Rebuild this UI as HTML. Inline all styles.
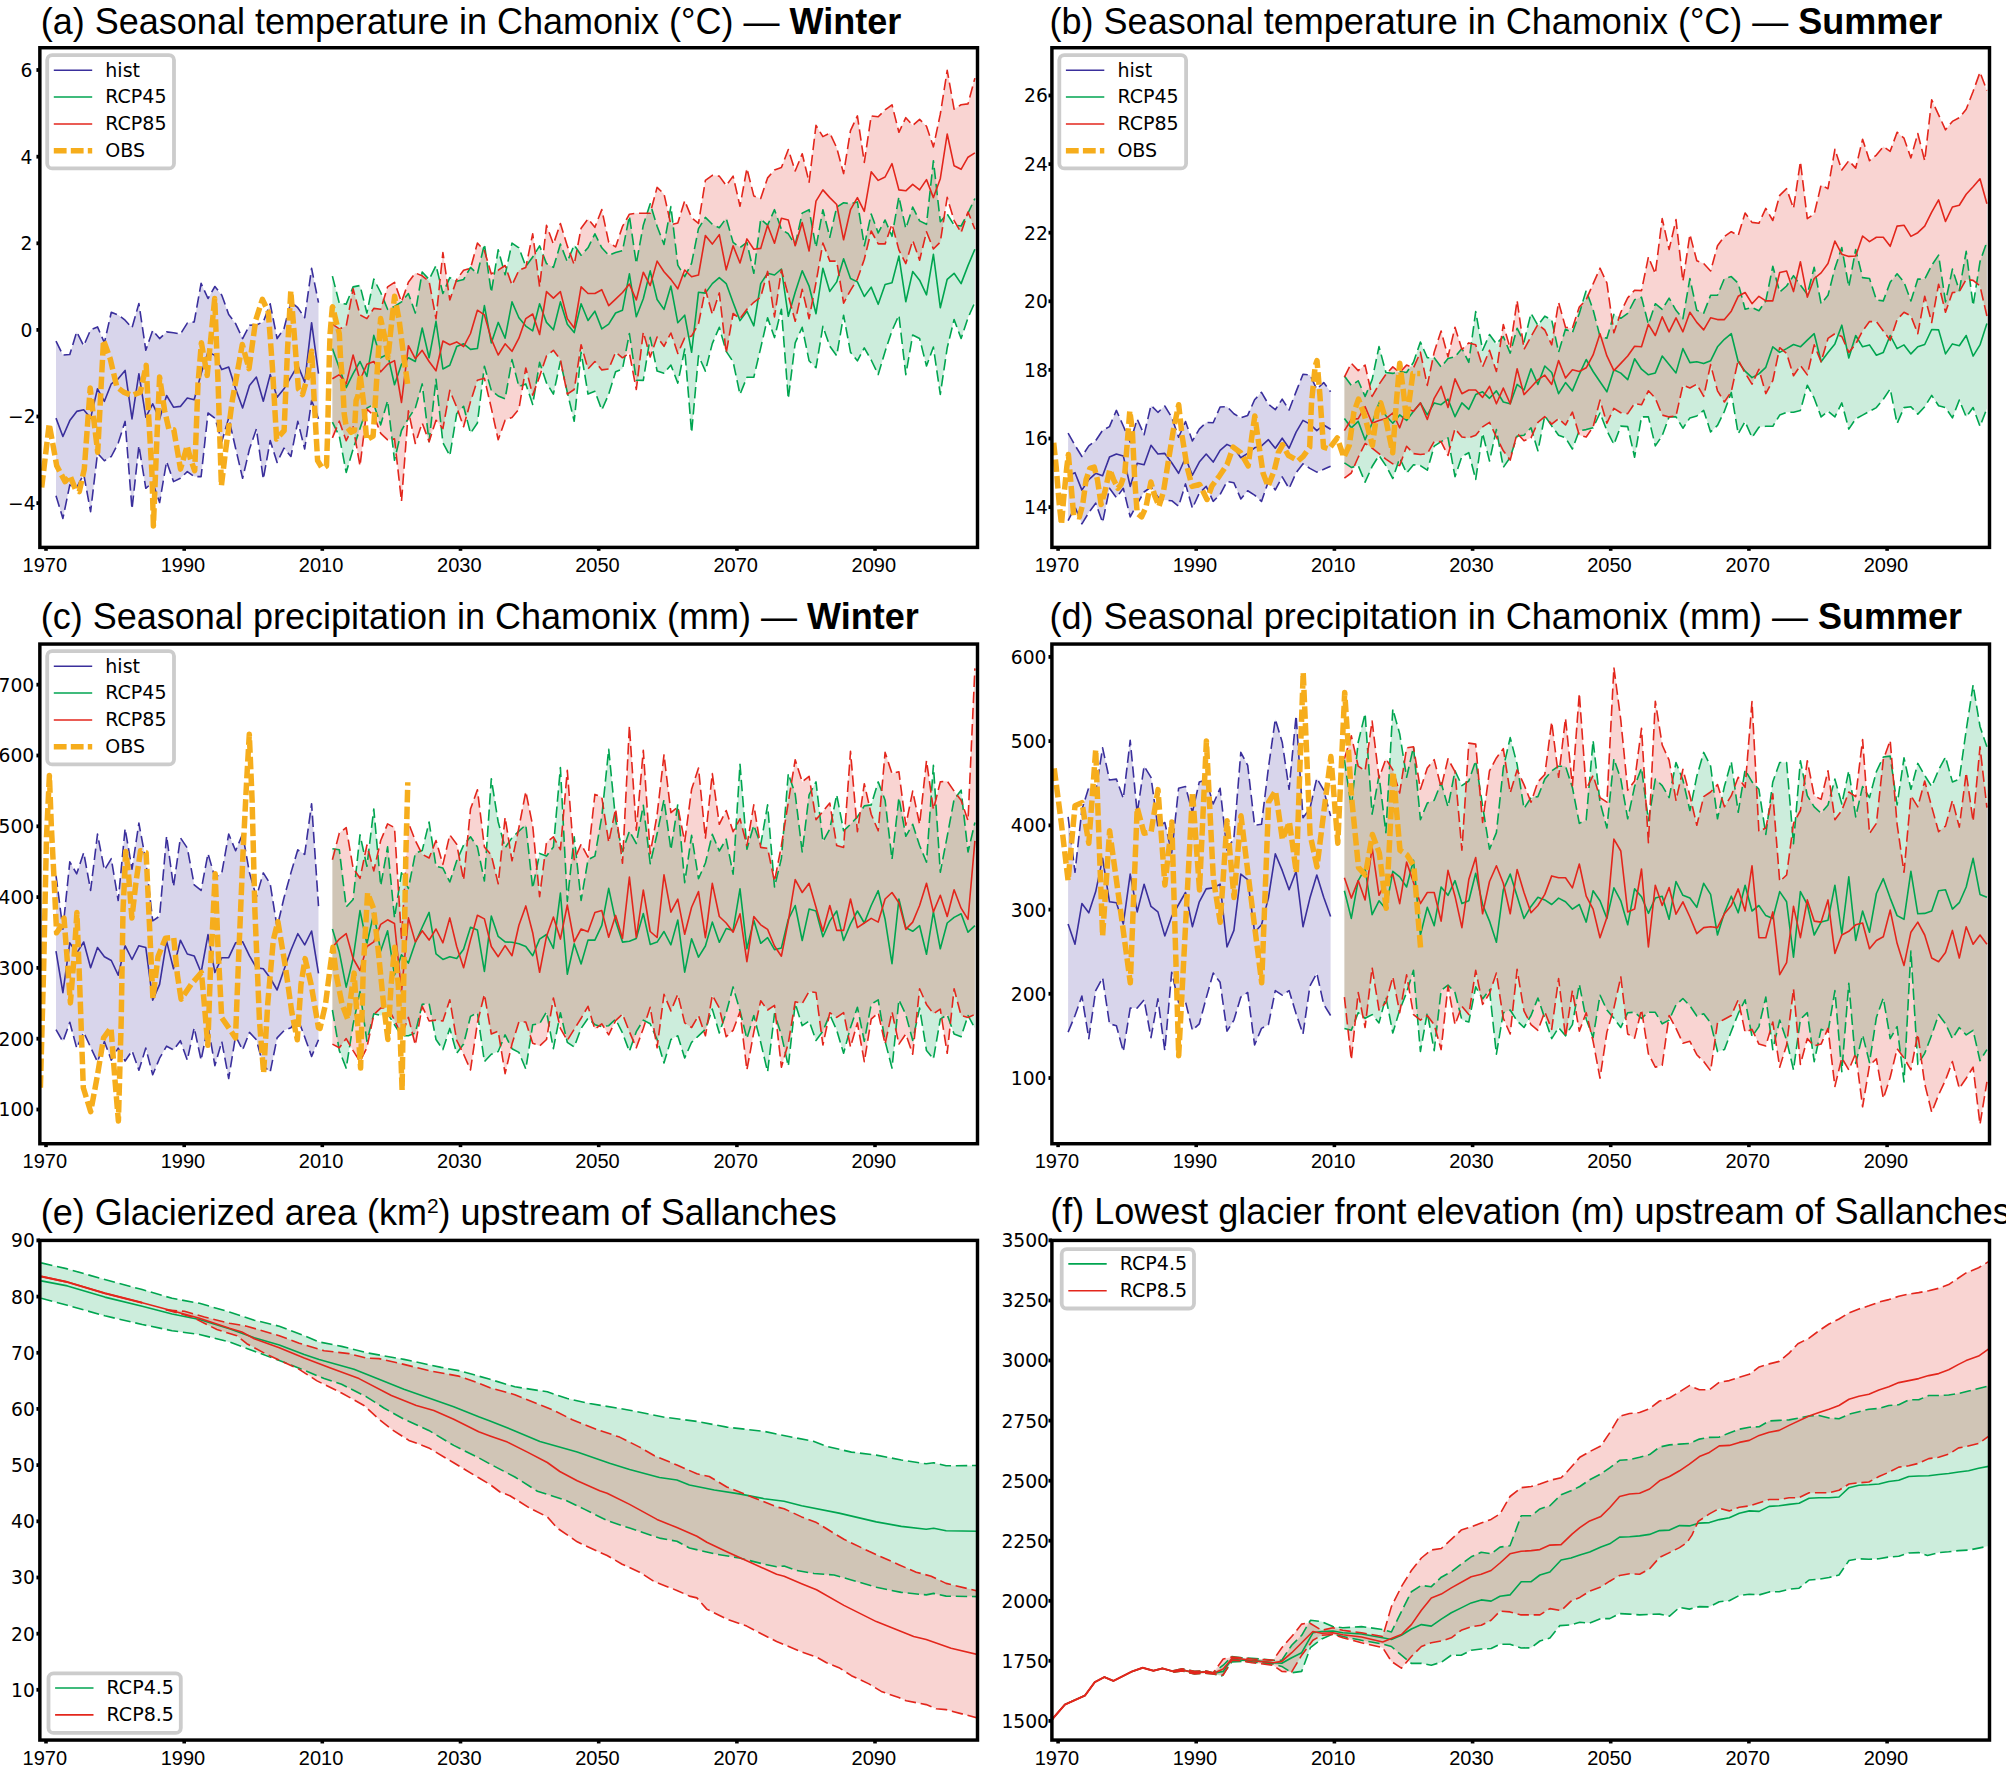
<!DOCTYPE html>
<html><head><meta charset="utf-8"><title>Chamonix climate projections</title>
<style>html,body{margin:0;padding:0;background:#fff}svg{display:block}</style></head>
<body>
<svg width="2006" height="1770" viewBox="0 0 2006 1770">
<rect width="2006" height="1770" fill="#fff"/>
<clipPath id="clipa"><rect x="39.85" y="47.73" width="937.65" height="499.66999999999996"/></clipPath>
<g clip-path="url(#clipa)">
<polygon points="56.0,341.1 62.9,355.0 69.8,354.5 76.7,331.9 83.7,345.7 90.6,329.9 97.5,326.9 104.4,342.8 111.3,312.2 118.2,314.9 125.1,320.2 132.0,327.8 138.9,303.5 145.8,350.3 152.7,330.3 159.6,338.6 166.6,331.9 173.5,332.8 180.4,334.1 187.3,323.1 194.2,321.9 201.1,283.4 208.0,298.5 214.9,286.5 221.8,295.2 228.7,314.4 235.6,323.6 242.6,338.6 249.5,325.3 256.4,324.9 263.3,321.9 270.2,303.8 277.1,338.6 284.0,328.6 290.9,301.8 297.8,307.7 304.7,317.7 311.6,268.4 318.5,302.7 318.5,418.9 311.6,400.5 304.7,449.0 297.8,421.4 290.9,456.5 284.0,448.2 277.1,462.4 270.2,440.6 263.3,479.1 256.4,428.9 249.5,449.0 242.6,478.3 235.6,448.2 228.7,418.1 221.8,441.5 214.9,418.1 208.0,413.0 201.1,476.6 194.2,476.6 187.3,471.6 180.4,478.3 173.5,481.6 166.6,461.5 159.6,502.5 152.7,482.4 145.8,488.3 138.9,445.7 132.0,509.2 125.1,421.4 118.2,443.1 111.3,456.5 104.4,460.7 97.5,453.2 90.6,511.7 83.7,474.1 76.7,487.5 69.8,484.9 62.9,518.4 56.0,495.8" fill="#3a2f9c" fill-opacity="0.2" stroke="none"/>
<polygon points="332.4,276.1 339.3,303.3 346.2,304.1 353.1,286.9 360.0,285.5 366.9,313.0 373.8,279.1 380.7,292.5 387.6,309.3 394.5,306.5 401.5,301.9 408.4,293.5 415.3,313.0 422.2,272.0 429.1,279.5 436.0,265.5 442.9,293.5 449.8,277.6 456.7,281.3 463.6,279.5 470.5,267.4 477.4,273.9 484.4,244.1 491.3,292.5 498.2,249.7 505.1,274.8 512.0,243.1 518.9,247.8 525.8,266.4 532.7,257.1 539.6,245.9 546.5,263.6 553.4,267.4 560.4,244.1 567.3,261.8 574.2,245.0 581.1,255.2 588.0,247.8 594.9,233.8 601.8,247.8 608.7,255.2 615.6,252.5 622.5,250.6 629.4,216.1 636.3,263.6 643.3,225.2 650.2,203.8 657.1,226.2 664.0,244.5 670.9,206.5 677.8,265.1 684.7,276.7 691.6,263.2 698.5,228.6 705.4,217.4 712.3,224.3 719.3,227.7 726.2,218.3 733.1,242.4 740.0,247.5 746.9,242.4 753.8,273.3 760.7,219.1 767.6,225.2 774.5,209.7 781.4,229.5 788.3,233.8 795.2,244.9 802.2,213.1 809.1,209.7 816.0,247.5 822.9,209.7 829.8,237.2 836.7,207.1 843.6,202.8 850.5,203.7 857.4,201.9 864.3,245.8 871.2,214.0 878.2,232.9 885.1,220.0 892.0,236.3 898.9,196.8 905.8,228.6 912.7,207.1 919.6,220.9 926.5,224.3 933.4,160.7 940.3,221.7 947.2,214.0 954.1,225.2 961.1,226.0 968.0,213.1 974.9,198.5 974.9,302.3 968.0,317.8 961.1,338.5 954.1,319.5 947.2,347.9 940.3,394.4 933.4,347.1 926.5,366.0 919.6,338.5 912.7,335.0 905.8,374.6 898.9,315.2 892.0,330.7 885.1,351.4 878.2,374.6 871.2,360.0 864.3,347.9 857.4,360.8 850.5,352.2 843.6,315.2 836.7,355.7 829.8,346.2 822.9,326.4 816.0,367.7 809.1,360.8 802.2,327.3 795.2,342.8 788.3,398.7 781.4,309.2 774.5,337.6 767.6,317.8 760.7,347.9 753.8,377.2 746.9,377.2 740.0,394.4 733.1,361.7 726.2,351.4 719.3,327.3 712.3,343.6 705.4,371.1 698.5,355.7 691.6,432.7 684.7,349.1 677.8,383.1 670.9,365.1 664.0,373.2 657.1,371.0 650.2,337.4 643.3,380.4 636.3,380.2 629.4,333.5 622.5,369.0 615.6,371.8 608.7,394.1 601.8,410.0 594.9,391.3 588.0,394.1 581.1,352.2 574.2,421.2 567.3,392.3 560.4,361.5 553.4,394.1 546.5,383.0 539.6,362.4 532.7,404.4 525.8,383.9 518.9,386.7 512.0,359.6 505.1,398.8 498.2,396.0 491.3,390.4 484.4,366.2 477.4,423.0 470.5,433.3 463.6,406.3 456.7,413.7 449.8,455.7 442.9,442.6 436.0,379.2 429.1,441.7 422.2,383.9 415.3,408.1 408.4,418.4 401.5,430.5 394.5,460.3 387.6,400.7 380.7,424.9 373.8,404.4 366.9,408.1 360.0,428.6 353.1,449.1 346.2,472.4 339.3,436.1 332.4,422.1" fill="#00a550" fill-opacity="0.2" stroke="none"/>
<polygon points="332.4,324.2 339.3,328.9 346.2,326.1 353.1,288.8 360.0,314.9 366.9,318.6 373.8,308.4 380.7,309.3 387.6,286.9 394.5,282.3 401.5,301.9 408.4,282.3 415.3,273.0 422.2,275.8 429.1,281.3 436.0,318.6 442.9,252.5 449.8,300.0 456.7,279.5 463.6,270.2 470.5,268.3 477.4,243.1 484.4,250.6 491.3,273.9 498.2,270.2 505.1,265.5 512.0,285.1 518.9,270.2 525.8,267.4 532.7,233.8 539.6,286.9 546.5,225.4 553.4,244.1 560.4,223.6 567.3,245.9 574.2,264.6 581.1,228.2 588.0,218.9 594.9,227.3 601.8,209.6 608.7,242.2 615.6,246.9 622.5,226.4 629.4,214.2 636.3,213.3 643.3,213.2 650.2,213.2 657.1,187.4 664.0,193.9 670.9,224.8 677.8,223.0 684.7,200.7 691.6,217.7 698.5,223.4 705.4,180.4 712.3,175.3 719.3,176.1 726.2,185.6 733.1,176.1 740.0,206.2 746.9,168.4 753.8,195.9 760.7,198.5 767.6,177.9 774.5,170.1 781.4,167.5 788.3,149.5 795.2,171.0 802.2,153.8 809.1,182.2 816.0,125.4 822.9,136.6 829.8,133.1 836.7,147.8 843.6,173.6 850.5,130.6 857.4,115.9 864.3,162.4 871.2,115.9 878.2,116.8 885.1,109.9 892.0,104.8 898.9,132.3 905.8,117.7 912.7,125.4 919.6,119.4 926.5,126.3 933.4,146.9 940.3,114.2 947.2,70.4 954.1,109.1 961.1,104.8 968.0,103.9 974.9,78.1 974.9,229.2 968.0,212.0 961.1,232.7 954.1,220.6 947.2,197.4 940.3,242.1 933.4,249.0 926.5,231.8 919.6,260.2 912.7,240.4 905.8,263.6 898.9,249.9 892.0,224.1 885.1,243.9 878.2,243.9 871.2,231.0 864.3,259.3 857.4,279.1 850.5,290.3 843.6,303.2 836.7,261.1 829.8,261.1 822.9,243.0 816.0,282.6 809.1,318.7 802.2,289.4 795.2,321.3 788.3,295.5 781.4,269.7 774.5,317.0 767.6,271.4 760.7,297.2 753.8,302.3 746.9,309.2 740.0,318.7 733.1,313.5 726.2,353.1 719.3,292.9 712.3,314.4 705.4,289.4 698.5,323.8 691.6,336.1 684.7,337.9 677.8,353.5 670.9,333.0 664.0,346.3 657.1,337.0 650.2,357.1 643.3,332.1 636.3,389.5 629.4,353.1 622.5,357.8 615.6,352.2 608.7,369.0 601.8,369.9 594.9,361.5 588.0,369.0 581.1,344.7 574.2,389.5 567.3,394.1 560.4,359.6 553.4,350.3 546.5,355.9 539.6,376.4 532.7,395.1 525.8,368.0 518.9,409.1 512.0,417.4 505.1,420.2 498.2,439.8 491.3,408.1 484.4,378.3 477.4,380.2 470.5,401.6 463.6,426.8 456.7,407.2 449.8,390.4 442.9,428.6 436.0,420.2 429.1,441.7 422.2,423.0 415.3,443.5 408.4,410.9 401.5,501.3 394.5,438.9 387.6,439.8 380.7,433.3 373.8,415.6 366.9,409.1 360.0,465.9 353.1,426.8 346.2,440.7 339.3,421.2 332.4,437.9" fill="#e3261c" fill-opacity="0.2" stroke="none"/>
<polyline points="56.0,418.1 62.9,436.5 69.8,420.6 76.7,411.4 83.7,409.7 90.6,418.1 97.5,388.8 104.4,401.3 111.3,383.8 118.2,378.8 125.1,370.4 132.0,418.9 138.9,373.7 145.8,417.2 152.7,403.8 159.6,418.9 166.6,395.5 173.5,407.2 180.4,406.4 187.3,398.0 194.2,399.7 201.1,373.7 208.0,352.0 214.9,355.4 221.8,369.6 228.7,367.1 235.6,388.8 242.6,408.0 249.5,385.5 256.4,377.1 263.3,401.3 270.2,374.6 277.1,397.2 284.0,388.8 290.9,377.1 297.8,365.4 304.7,382.1 311.6,322.7 318.5,373.7" fill="none" stroke="#3a2f9c" stroke-width="1.6" stroke-linejoin="round"/>
<polyline points="56.0,341.1 62.9,355.0 69.8,354.5 76.7,331.9 83.7,345.7 90.6,329.9 97.5,326.9 104.4,342.8 111.3,312.2 118.2,314.9 125.1,320.2 132.0,327.8 138.9,303.5 145.8,350.3 152.7,330.3 159.6,338.6 166.6,331.9 173.5,332.8 180.4,334.1 187.3,323.1 194.2,321.9 201.1,283.4 208.0,298.5 214.9,286.5 221.8,295.2 228.7,314.4 235.6,323.6 242.6,338.6 249.5,325.3 256.4,324.9 263.3,321.9 270.2,303.8 277.1,338.6 284.0,328.6 290.9,301.8 297.8,307.7 304.7,317.7 311.6,268.4 318.5,302.7" fill="none" stroke="#3a2f9c" stroke-width="1.6" stroke-dasharray="11.4 4.8" stroke-linejoin="round"/>
<polyline points="56.0,495.8 62.9,518.4 69.8,484.9 76.7,487.5 83.7,474.1 90.6,511.7 97.5,453.2 104.4,460.7 111.3,456.5 118.2,443.1 125.1,421.4 132.0,509.2 138.9,445.7 145.8,488.3 152.7,482.4 159.6,502.5 166.6,461.5 173.5,481.6 180.4,478.3 187.3,471.6 194.2,476.6 201.1,476.6 208.0,413.0 214.9,418.1 221.8,441.5 228.7,418.1 235.6,448.2 242.6,478.3 249.5,449.0 256.4,428.9 263.3,479.1 270.2,440.6 277.1,462.4 284.0,448.2 290.9,456.5 297.8,421.4 304.7,449.0 311.6,400.5 318.5,418.9" fill="none" stroke="#3a2f9c" stroke-width="1.6" stroke-dasharray="11.4 4.8" stroke-linejoin="round"/>
<polyline points="332.4,348.5 339.3,368.0 346.2,387.6 353.1,373.6 360.0,361.5 366.9,376.4 373.8,335.4 380.7,357.8 387.6,354.1 394.5,384.8 401.5,364.3 408.4,357.8 415.3,361.5 422.2,328.0 429.1,357.8 436.0,321.4 442.9,369.0 449.8,365.2 456.7,346.6 463.6,343.8 470.5,349.4 477.4,348.5 484.4,305.6 491.3,342.9 498.2,322.4 505.1,338.2 512.0,301.9 518.9,317.7 525.8,326.1 532.7,330.8 539.6,303.7 546.5,322.4 553.4,329.8 560.4,301.9 567.3,324.2 574.2,332.6 581.1,303.7 588.0,320.5 594.9,311.2 601.8,328.9 608.7,324.2 615.6,313.0 622.5,310.2 629.4,273.9 636.3,316.8 643.3,298.8 650.2,270.9 657.1,299.5 664.0,309.4 670.9,286.1 677.8,322.8 684.7,315.2 691.6,352.3 698.5,292.2 705.4,293.1 712.3,283.6 719.3,277.6 726.2,283.6 733.1,302.6 740.0,320.6 746.9,311.2 753.8,325.8 760.7,283.6 767.6,273.3 774.5,275.0 781.4,269.0 788.3,316.3 795.2,292.2 802.2,270.7 809.1,286.2 816.0,313.7 822.9,268.2 829.8,291.4 836.7,281.9 843.6,258.7 850.5,278.5 857.4,281.9 864.3,296.5 871.2,287.1 878.2,304.3 885.1,284.5 892.0,282.8 898.9,256.1 905.8,301.7 912.7,271.6 919.6,280.2 926.5,294.8 933.4,254.4 940.3,307.7 947.2,279.3 954.1,273.3 961.1,283.6 968.0,265.6 974.9,249.2" fill="none" stroke="#00a550" stroke-width="1.6" stroke-linejoin="round"/>
<polyline points="332.4,276.1 339.3,303.3 346.2,304.1 353.1,286.9 360.0,285.5 366.9,313.0 373.8,279.1 380.7,292.5 387.6,309.3 394.5,306.5 401.5,301.9 408.4,293.5 415.3,313.0 422.2,272.0 429.1,279.5 436.0,265.5 442.9,293.5 449.8,277.6 456.7,281.3 463.6,279.5 470.5,267.4 477.4,273.9 484.4,244.1 491.3,292.5 498.2,249.7 505.1,274.8 512.0,243.1 518.9,247.8 525.8,266.4 532.7,257.1 539.6,245.9 546.5,263.6 553.4,267.4 560.4,244.1 567.3,261.8 574.2,245.0 581.1,255.2 588.0,247.8 594.9,233.8 601.8,247.8 608.7,255.2 615.6,252.5 622.5,250.6 629.4,216.1 636.3,263.6 643.3,225.2 650.2,203.8 657.1,226.2 664.0,244.5 670.9,206.5 677.8,265.1 684.7,276.7 691.6,263.2 698.5,228.6 705.4,217.4 712.3,224.3 719.3,227.7 726.2,218.3 733.1,242.4 740.0,247.5 746.9,242.4 753.8,273.3 760.7,219.1 767.6,225.2 774.5,209.7 781.4,229.5 788.3,233.8 795.2,244.9 802.2,213.1 809.1,209.7 816.0,247.5 822.9,209.7 829.8,237.2 836.7,207.1 843.6,202.8 850.5,203.7 857.4,201.9 864.3,245.8 871.2,214.0 878.2,232.9 885.1,220.0 892.0,236.3 898.9,196.8 905.8,228.6 912.7,207.1 919.6,220.9 926.5,224.3 933.4,160.7 940.3,221.7 947.2,214.0 954.1,225.2 961.1,226.0 968.0,213.1 974.9,198.5" fill="none" stroke="#00a550" stroke-width="1.6" stroke-dasharray="11.4 4.8" stroke-linejoin="round"/>
<polyline points="332.4,422.1 339.3,436.1 346.2,472.4 353.1,449.1 360.0,428.6 366.9,408.1 373.8,404.4 380.7,424.9 387.6,400.7 394.5,460.3 401.5,430.5 408.4,418.4 415.3,408.1 422.2,383.9 429.1,441.7 436.0,379.2 442.9,442.6 449.8,455.7 456.7,413.7 463.6,406.3 470.5,433.3 477.4,423.0 484.4,366.2 491.3,390.4 498.2,396.0 505.1,398.8 512.0,359.6 518.9,386.7 525.8,383.9 532.7,404.4 539.6,362.4 546.5,383.0 553.4,394.1 560.4,361.5 567.3,392.3 574.2,421.2 581.1,352.2 588.0,394.1 594.9,391.3 601.8,410.0 608.7,394.1 615.6,371.8 622.5,369.0 629.4,333.5 636.3,380.2 643.3,380.4 650.2,337.4 657.1,371.0 664.0,373.2 670.9,365.1 677.8,383.1 684.7,349.1 691.6,432.7 698.5,355.7 705.4,371.1 712.3,343.6 719.3,327.3 726.2,351.4 733.1,361.7 740.0,394.4 746.9,377.2 753.8,377.2 760.7,347.9 767.6,317.8 774.5,337.6 781.4,309.2 788.3,398.7 795.2,342.8 802.2,327.3 809.1,360.8 816.0,367.7 822.9,326.4 829.8,346.2 836.7,355.7 843.6,315.2 850.5,352.2 857.4,360.8 864.3,347.9 871.2,360.0 878.2,374.6 885.1,351.4 892.0,330.7 898.9,315.2 905.8,374.6 912.7,335.0 919.6,338.5 926.5,366.0 933.4,347.1 940.3,394.4 947.2,347.9 954.1,319.5 961.1,338.5 968.0,317.8 974.9,302.3" fill="none" stroke="#00a550" stroke-width="1.6" stroke-dasharray="11.4 4.8" stroke-linejoin="round"/>
<polyline points="332.4,378.7 339.3,374.6 346.2,383.9 353.1,355.0 360.0,380.2 366.9,364.3 373.8,361.5 380.7,371.8 387.6,364.3 394.5,360.6 401.5,402.5 408.4,345.7 415.3,358.7 422.2,350.3 429.1,361.5 436.0,370.8 442.9,341.0 449.8,344.7 456.7,341.9 463.6,346.6 470.5,333.5 477.4,310.2 484.4,314.9 491.3,339.1 498.2,355.0 505.1,343.8 512.0,351.3 518.9,338.2 525.8,318.6 532.7,314.0 539.6,334.5 546.5,291.6 553.4,298.1 560.4,291.6 567.3,318.6 574.2,328.0 581.1,286.9 588.0,293.5 594.9,293.5 601.8,289.7 608.7,305.6 615.6,299.1 622.5,292.5 629.4,284.1 636.3,300.0 643.3,272.2 650.2,285.6 657.1,261.1 664.0,271.8 670.9,279.4 677.8,288.8 684.7,270.0 691.6,276.7 698.5,275.0 705.4,235.5 712.3,244.1 719.3,234.6 726.2,269.9 733.1,245.8 740.0,263.0 746.9,238.9 753.8,249.2 760.7,248.4 767.6,225.2 774.5,243.2 781.4,218.3 788.3,220.0 795.2,245.8 802.2,222.6 809.1,251.0 816.0,201.1 822.9,189.9 829.8,197.6 836.7,204.5 843.6,239.8 850.5,209.7 857.4,197.6 864.3,211.4 871.2,171.8 878.2,180.4 885.1,177.0 892.0,163.6 898.9,189.9 905.8,190.8 912.7,184.4 919.6,189.9 926.5,179.6 933.4,197.6 940.3,178.7 947.2,134.0 954.1,165.8 961.1,169.3 968.0,157.2 974.9,152.9" fill="none" stroke="#e3261c" stroke-width="1.6" stroke-linejoin="round"/>
<polyline points="332.4,324.2 339.3,328.9 346.2,326.1 353.1,288.8 360.0,314.9 366.9,318.6 373.8,308.4 380.7,309.3 387.6,286.9 394.5,282.3 401.5,301.9 408.4,282.3 415.3,273.0 422.2,275.8 429.1,281.3 436.0,318.6 442.9,252.5 449.8,300.0 456.7,279.5 463.6,270.2 470.5,268.3 477.4,243.1 484.4,250.6 491.3,273.9 498.2,270.2 505.1,265.5 512.0,285.1 518.9,270.2 525.8,267.4 532.7,233.8 539.6,286.9 546.5,225.4 553.4,244.1 560.4,223.6 567.3,245.9 574.2,264.6 581.1,228.2 588.0,218.9 594.9,227.3 601.8,209.6 608.7,242.2 615.6,246.9 622.5,226.4 629.4,214.2 636.3,213.3 643.3,213.2 650.2,213.2 657.1,187.4 664.0,193.9 670.9,224.8 677.8,223.0 684.7,200.7 691.6,217.7 698.5,223.4 705.4,180.4 712.3,175.3 719.3,176.1 726.2,185.6 733.1,176.1 740.0,206.2 746.9,168.4 753.8,195.9 760.7,198.5 767.6,177.9 774.5,170.1 781.4,167.5 788.3,149.5 795.2,171.0 802.2,153.8 809.1,182.2 816.0,125.4 822.9,136.6 829.8,133.1 836.7,147.8 843.6,173.6 850.5,130.6 857.4,115.9 864.3,162.4 871.2,115.9 878.2,116.8 885.1,109.9 892.0,104.8 898.9,132.3 905.8,117.7 912.7,125.4 919.6,119.4 926.5,126.3 933.4,146.9 940.3,114.2 947.2,70.4 954.1,109.1 961.1,104.8 968.0,103.9 974.9,78.1" fill="none" stroke="#e3261c" stroke-width="1.6" stroke-dasharray="11.4 4.8" stroke-linejoin="round"/>
<polyline points="332.4,437.9 339.3,421.2 346.2,440.7 353.1,426.8 360.0,465.9 366.9,409.1 373.8,415.6 380.7,433.3 387.6,439.8 394.5,438.9 401.5,501.3 408.4,410.9 415.3,443.5 422.2,423.0 429.1,441.7 436.0,420.2 442.9,428.6 449.8,390.4 456.7,407.2 463.6,426.8 470.5,401.6 477.4,380.2 484.4,378.3 491.3,408.1 498.2,439.8 505.1,420.2 512.0,417.4 518.9,409.1 525.8,368.0 532.7,395.1 539.6,376.4 546.5,355.9 553.4,350.3 560.4,359.6 567.3,394.1 574.2,389.5 581.1,344.7 588.0,369.0 594.9,361.5 601.8,369.9 608.7,369.0 615.6,352.2 622.5,357.8 629.4,353.1 636.3,389.5 643.3,332.1 650.2,357.1 657.1,337.0 664.0,346.3 670.9,333.0 677.8,353.5 684.7,337.9 691.6,336.1 698.5,323.8 705.4,289.4 712.3,314.4 719.3,292.9 726.2,353.1 733.1,313.5 740.0,318.7 746.9,309.2 753.8,302.3 760.7,297.2 767.6,271.4 774.5,317.0 781.4,269.7 788.3,295.5 795.2,321.3 802.2,289.4 809.1,318.7 816.0,282.6 822.9,243.0 829.8,261.1 836.7,261.1 843.6,303.2 850.5,290.3 857.4,279.1 864.3,259.3 871.2,231.0 878.2,243.9 885.1,243.9 892.0,224.1 898.9,249.9 905.8,263.6 912.7,240.4 919.6,260.2 926.5,231.8 933.4,249.0 940.3,242.1 947.2,197.4 954.1,220.6 961.1,232.7 968.0,212.0 974.9,229.2" fill="none" stroke="#e3261c" stroke-width="1.6" stroke-dasharray="11.4 4.8" stroke-linejoin="round"/>
<polyline points="41.7,487.5 49.2,423.9 56.7,465.7 65.1,481.6 70.1,475.8 76.0,490.8 79.3,491.6 84.3,469.1 90.2,388.0 93.5,417.2 97.7,452.3 103.5,340.3 110.2,358.7 116.9,387.1 123.6,392.1 132.0,395.5 140.3,392.1 146.2,365.4 148.7,417.2 152.0,474.1 153.4,525.9 157.1,433.9 159.6,377.1 164.6,410.5 168.8,428.9 173.8,429.8 180.5,469.1 187.2,445.7 190.5,459.0 194.7,470.7 198.0,383.8 201.4,342.8 207.2,375.4 214.7,298.5 218.1,383.8 221.4,485.8 225.6,450.7 232.3,400.5 242.3,344.5 249.0,368.7 255.7,320.2 262.4,299.3 268.3,311.9 272.4,367.1 276.6,439.0 284.1,430.6 287.5,350.3 290.8,291.0 294.2,333.6 298.4,388.8 302.5,394.6 307.6,377.1 311.7,351.2 314.2,400.5 317.6,460.7 321.9,467.8 324.3,467.4 326.5,465.9 327.6,433.9 329.3,357.8 330.1,333.6 332.3,307.4 332.6,306.9 336.8,324.2 339.3,333.6 340.5,357.8 342.7,383.8 344.2,413.7 346.0,425.6 349.8,430.5 351.0,432.3 354.5,430.5 356.1,400.5 358.2,395.1 360.1,374.6 360.2,375.4 363.8,404.4 366.6,439.8 373.1,436.1 376.9,376.4 380.6,318.6 385.2,339.1 388.0,357.8 391.8,320.5 394.6,296.3 399.2,320.5 403.9,357.8 407.6,383.9" fill="none" stroke="#f6ad1c" stroke-width="5.5" stroke-dasharray="12.5 4.2" stroke-linejoin="round"/>
</g>
<line x1="46.0" y1="547.4" x2="46.0" y2="550.8" stroke="#000" stroke-width="3.6"/>
<text x="44.8" y="571.9" text-anchor="middle" font-family="Liberation Sans, sans-serif" font-size="20.0">1970</text>
<line x1="184.2" y1="547.4" x2="184.2" y2="550.8" stroke="#000" stroke-width="3.6"/>
<text x="183.0" y="571.9" text-anchor="middle" font-family="Liberation Sans, sans-serif" font-size="20.0">1990</text>
<line x1="322.3" y1="547.4" x2="322.3" y2="550.8" stroke="#000" stroke-width="3.6"/>
<text x="321.1" y="571.9" text-anchor="middle" font-family="Liberation Sans, sans-serif" font-size="20.0">2010</text>
<line x1="460.5" y1="547.4" x2="460.5" y2="550.8" stroke="#000" stroke-width="3.6"/>
<text x="459.3" y="571.9" text-anchor="middle" font-family="Liberation Sans, sans-serif" font-size="20.0">2030</text>
<line x1="598.7" y1="547.4" x2="598.7" y2="550.8" stroke="#000" stroke-width="3.6"/>
<text x="597.5" y="571.9" text-anchor="middle" font-family="Liberation Sans, sans-serif" font-size="20.0">2050</text>
<line x1="736.9" y1="547.4" x2="736.9" y2="550.8" stroke="#000" stroke-width="3.6"/>
<text x="735.7" y="571.9" text-anchor="middle" font-family="Liberation Sans, sans-serif" font-size="20.0">2070</text>
<line x1="875.0" y1="547.4" x2="875.0" y2="550.8" stroke="#000" stroke-width="3.6"/>
<text x="873.8" y="571.9" text-anchor="middle" font-family="Liberation Sans, sans-serif" font-size="20.0">2090</text>
<line x1="36.45" y1="70.0" x2="39.85" y2="70.0" stroke="#000" stroke-width="3.8"/>
<text x="32.3" y="76.9" text-anchor="end" font-family="DejaVu Sans, sans-serif" font-size="18.7">6</text>
<line x1="36.45" y1="156.7" x2="39.85" y2="156.7" stroke="#000" stroke-width="3.8"/>
<text x="32.3" y="163.6" text-anchor="end" font-family="DejaVu Sans, sans-serif" font-size="18.7">4</text>
<line x1="36.45" y1="243.3" x2="39.85" y2="243.3" stroke="#000" stroke-width="3.8"/>
<text x="32.3" y="250.2" text-anchor="end" font-family="DejaVu Sans, sans-serif" font-size="18.7">2</text>
<line x1="36.45" y1="329.9" x2="39.85" y2="329.9" stroke="#000" stroke-width="3.8"/>
<text x="32.3" y="336.8" text-anchor="end" font-family="DejaVu Sans, sans-serif" font-size="18.7">0</text>
<line x1="36.45" y1="416.5" x2="39.85" y2="416.5" stroke="#000" stroke-width="3.8"/>
<text x="35.6" y="423.4" text-anchor="end" font-family="DejaVu Sans, sans-serif" font-size="18.7">−2</text>
<line x1="36.45" y1="503.1" x2="39.85" y2="503.1" stroke="#000" stroke-width="3.8"/>
<text x="35.6" y="510.0" text-anchor="end" font-family="DejaVu Sans, sans-serif" font-size="18.7">−4</text>
<rect x="39.85" y="47.73" width="937.65" height="499.66999999999996" fill="none" stroke="#000" stroke-width="3.45"/>
<text x="40.8" y="33.5" font-family="Liberation Sans, sans-serif" font-size="36">(a) Seasonal temperature in Chamonix (°C) — <tspan font-weight="bold">Winter</tspan></text>
<rect x="47.2" y="55.1" width="126.8" height="113.30000000000001" rx="5" ry="5" fill="#fff" fill-opacity="0.8" stroke="#ccc" stroke-width="3.8"/>
<line x1="53.800000000000004" y1="70.2" x2="92.2" y2="70.2" stroke="#3a2f9c" stroke-width="1.6"/>
<text x="105.3" y="76.5" font-family="DejaVu Sans, sans-serif" font-size="19.05">hist</text>
<line x1="53.800000000000004" y1="97.07000000000001" x2="92.2" y2="97.07000000000001" stroke="#00a550" stroke-width="1.6"/>
<text x="105.3" y="103.4" font-family="DejaVu Sans, sans-serif" font-size="19.05">RCP45</text>
<line x1="53.800000000000004" y1="123.94" x2="92.2" y2="123.94" stroke="#e3261c" stroke-width="1.6"/>
<text x="105.3" y="130.2" font-family="DejaVu Sans, sans-serif" font-size="19.05">RCP85</text>
<line x1="53.800000000000004" y1="150.81" x2="92.2" y2="150.81" stroke="#f6ad1c" stroke-width="5.5" stroke-dasharray="12.8 4.2"/>
<text x="105.3" y="157.1" font-family="DejaVu Sans, sans-serif" font-size="19.05">OBS</text>
<clipPath id="clipb"><rect x="1051.9" y="47.73" width="937.5999999999999" height="499.66999999999996"/></clipPath>
<g clip-path="url(#clipb)">
<polygon points="1068.1,433.2 1075.0,445.3 1081.9,456.5 1088.8,445.9 1095.7,440.7 1102.6,430.3 1109.5,426.6 1116.4,410.4 1123.3,426.0 1130.2,442.2 1137.2,419.1 1144.1,434.7 1151.0,405.4 1157.9,412.3 1164.8,406.0 1171.7,417.2 1178.6,437.2 1185.5,421.6 1192.4,440.9 1199.3,429.1 1206.2,422.5 1213.2,422.8 1220.1,407.0 1227.0,406.6 1233.9,413.7 1240.8,417.9 1247.7,415.4 1254.6,399.8 1261.5,392.3 1268.4,404.2 1275.3,409.7 1282.2,399.2 1289.1,410.0 1296.1,391.6 1303.0,374.3 1309.9,374.9 1316.8,389.1 1323.7,382.6 1330.6,391.8 1330.6,466.2 1323.7,469.3 1316.8,472.1 1309.9,468.4 1303.0,463.8 1296.1,472.8 1289.1,488.5 1282.2,476.9 1275.3,489.9 1268.4,481.4 1261.5,501.4 1254.6,495.1 1247.7,490.8 1240.8,498.9 1233.9,482.7 1227.0,481.4 1220.1,494.5 1213.2,501.4 1206.2,486.4 1199.3,493.3 1192.4,508.2 1185.5,483.9 1178.6,506.3 1171.7,500.7 1164.8,500.1 1157.9,497.0 1151.0,487.0 1144.1,492.0 1137.2,503.9 1130.2,516.9 1123.3,488.3 1116.4,497.6 1109.5,488.3 1102.6,522.5 1095.7,503.2 1088.8,512.6 1081.9,523.8 1075.0,507.0 1068.1,520.7" fill="#3a2f9c" fill-opacity="0.2" stroke="none"/>
<polygon points="1344.4,376.1 1351.3,385.4 1358.2,380.8 1365.1,396.4 1372.1,379.8 1379.0,346.6 1385.9,372.5 1392.8,373.4 1399.7,371.5 1406.6,372.5 1413.5,362.3 1420.4,342.0 1427.3,357.7 1434.2,357.7 1441.1,366.9 1448.0,358.6 1455.0,356.8 1461.9,348.5 1468.8,362.3 1475.7,311.6 1482.6,350.3 1489.5,334.6 1496.4,343.9 1503.3,336.5 1510.2,353.1 1517.1,328.2 1524.0,342.0 1531.0,313.4 1537.9,325.4 1544.8,316.2 1551.7,319.9 1558.6,352.2 1565.5,329.1 1572.4,332.8 1579.3,313.4 1586.2,290.4 1593.1,309.7 1600.0,336.5 1606.9,338.3 1613.9,314.4 1620.8,318.3 1627.7,313.3 1634.6,299.8 1641.5,297.2 1648.4,324.3 1655.3,303.7 1662.2,309.3 1669.1,298.1 1676.0,310.3 1682.9,318.7 1689.9,278.5 1696.8,310.3 1703.7,313.1 1710.6,295.3 1717.5,295.3 1724.4,278.5 1731.3,276.6 1738.2,283.2 1745.1,309.3 1752.0,307.5 1758.9,310.8 1765.8,300.9 1772.8,266.3 1779.7,292.1 1786.6,286.0 1793.5,275.7 1800.4,285.0 1807.3,294.4 1814.2,267.3 1821.1,303.7 1828.0,295.3 1834.9,268.2 1841.8,247.6 1848.8,286.9 1855.7,249.5 1862.6,277.6 1869.5,278.5 1876.4,300.0 1883.3,300.9 1890.2,282.2 1897.1,273.8 1904.0,282.2 1910.9,300.9 1917.8,279.1 1924.7,279.1 1931.7,265.4 1938.6,255.1 1945.5,301.9 1952.4,269.1 1959.3,290.6 1966.2,251.4 1973.1,305.6 1980.0,261.7 1986.9,242.0 1986.9,408.5 1980.0,426.3 1973.1,407.6 1966.2,416.9 1959.3,400.1 1952.4,417.9 1945.5,407.6 1938.6,405.7 1931.7,395.4 1924.7,406.7 1917.8,414.1 1910.9,406.7 1904.0,407.6 1897.1,423.5 1890.2,388.9 1883.3,399.2 1876.4,407.6 1869.5,411.3 1862.6,415.1 1855.7,418.8 1848.8,429.1 1841.8,402.9 1834.9,416.9 1828.0,411.3 1821.1,416.9 1814.2,398.2 1807.3,385.2 1800.4,410.4 1793.5,412.3 1786.6,412.3 1779.7,415.1 1772.8,426.3 1765.8,426.3 1758.9,427.2 1752.0,437.5 1745.1,421.6 1738.2,433.8 1731.3,392.6 1724.4,411.3 1717.5,425.4 1710.6,431.9 1703.7,410.4 1696.8,416.0 1689.9,417.9 1682.9,428.2 1676.0,416.9 1669.1,416.9 1662.2,435.6 1655.3,445.9 1648.4,416.9 1641.5,416.9 1634.6,457.2 1627.7,426.6 1620.8,426.1 1613.9,444.4 1606.9,430.6 1600.0,413.0 1593.1,427.8 1586.2,429.6 1579.3,430.6 1572.4,449.0 1565.5,437.9 1558.6,435.2 1551.7,425.9 1544.8,415.8 1537.9,450.8 1531.0,427.8 1524.0,435.2 1517.1,436.1 1510.2,457.3 1503.3,467.4 1496.4,429.6 1489.5,461.0 1482.6,433.3 1475.7,479.4 1468.8,452.7 1461.9,456.4 1455.0,476.7 1448.0,437.9 1441.1,441.6 1434.2,446.2 1427.3,470.2 1420.4,465.6 1413.5,464.7 1406.6,473.0 1399.7,458.2 1392.8,478.5 1385.9,465.6 1379.0,455.5 1372.1,466.5 1365.1,482.2 1358.2,465.6 1351.3,467.4 1344.4,462.8" fill="#00a550" fill-opacity="0.2" stroke="none"/>
<polygon points="1344.4,377.1 1351.3,363.2 1358.2,370.6 1365.1,365.1 1372.1,396.4 1379.0,384.4 1385.9,374.3 1392.8,366.9 1399.7,372.5 1406.6,365.1 1413.5,367.8 1420.4,352.2 1427.3,385.4 1434.2,352.2 1441.1,331.0 1448.0,356.8 1455.0,327.3 1461.9,349.4 1468.8,342.9 1475.7,344.8 1482.6,366.9 1489.5,350.3 1496.4,371.5 1503.3,324.5 1510.2,348.5 1517.1,300.5 1524.0,349.4 1531.0,336.5 1537.9,324.5 1544.8,330.0 1551.7,344.8 1558.6,302.4 1565.5,327.3 1572.4,328.2 1579.3,307.0 1586.2,299.6 1593.1,283.9 1600.0,268.2 1606.9,283.0 1613.9,332.8 1620.8,312.3 1627.7,297.9 1634.6,290.3 1641.5,290.6 1648.4,257.0 1655.3,273.8 1662.2,218.6 1669.1,249.5 1676.0,219.6 1682.9,281.3 1689.9,234.5 1696.8,260.7 1703.7,263.5 1710.6,271.0 1717.5,245.8 1724.4,236.4 1731.3,231.7 1738.2,235.5 1745.1,213.0 1752.0,222.4 1758.9,223.3 1765.8,208.4 1772.8,220.5 1779.7,195.3 1786.6,188.7 1793.5,208.4 1800.4,161.6 1807.3,218.6 1814.2,214.0 1821.1,185.0 1828.0,188.7 1834.9,149.4 1841.8,170.0 1848.8,160.7 1855.7,168.1 1862.6,139.2 1869.5,160.7 1876.4,155.1 1883.3,146.6 1890.2,151.3 1897.1,132.2 1904.0,138.2 1910.9,157.9 1917.8,133.5 1924.7,160.7 1931.7,99.9 1938.6,114.8 1945.5,129.8 1952.4,121.4 1959.3,117.7 1966.2,109.2 1973.1,91.5 1980.0,72.2 1986.9,90.5 1986.9,316.0 1980.0,286.0 1973.1,280.4 1966.2,279.5 1959.3,291.6 1952.4,292.6 1945.5,312.2 1938.6,284.2 1931.7,322.5 1924.7,296.3 1917.8,333.7 1910.9,316.0 1904.0,312.2 1897.1,319.7 1890.2,340.3 1883.3,330.9 1876.4,321.6 1869.5,321.6 1862.6,330.9 1855.7,344.0 1848.8,352.4 1841.8,336.5 1834.9,333.7 1828.0,338.4 1821.1,361.8 1814.2,344.9 1807.3,374.9 1800.4,365.5 1793.5,375.8 1786.6,353.4 1779.7,347.7 1772.8,380.5 1765.8,393.6 1758.9,369.3 1752.0,384.2 1745.1,373.0 1738.2,359.9 1731.3,391.7 1724.4,402.0 1717.5,390.8 1710.6,364.6 1703.7,396.4 1696.8,384.2 1689.9,388.0 1682.9,385.2 1676.0,416.0 1669.1,416.9 1662.2,415.1 1655.3,398.2 1648.4,390.8 1641.5,404.8 1634.6,403.4 1627.7,413.6 1620.8,412.7 1613.9,408.4 1606.9,423.2 1600.0,400.1 1593.1,426.9 1586.2,437.0 1579.3,435.2 1572.4,412.1 1565.5,425.0 1558.6,418.6 1551.7,424.1 1544.8,416.7 1537.9,422.3 1531.0,437.9 1524.0,440.7 1517.1,433.3 1510.2,460.1 1503.3,450.8 1496.4,437.0 1489.5,422.3 1482.6,426.9 1475.7,435.2 1468.8,437.9 1461.9,437.0 1455.0,428.7 1448.0,455.5 1441.1,441.6 1434.2,441.6 1427.3,453.6 1420.4,454.5 1413.5,453.6 1406.6,446.2 1399.7,465.6 1392.8,463.8 1385.9,459.1 1379.0,453.6 1372.1,448.1 1365.1,443.5 1358.2,457.3 1351.3,473.0 1344.4,478.1" fill="#e3261c" fill-opacity="0.2" stroke="none"/>
<polyline points="1068.1,475.8 1075.0,472.7 1081.9,490.1 1088.8,479.6 1095.7,473.3 1102.6,475.8 1109.5,457.1 1116.4,454.0 1123.3,455.9 1130.2,486.4 1137.2,463.3 1144.1,464.8 1151.0,445.3 1157.9,454.0 1164.8,453.4 1171.7,462.7 1178.6,473.3 1185.5,457.7 1192.4,475.2 1199.3,462.1 1206.2,454.0 1213.2,462.1 1220.1,450.3 1227.0,444.4 1233.9,447.8 1240.8,457.7 1247.7,453.4 1254.6,447.8 1261.5,445.9 1268.4,439.7 1275.3,448.2 1282.2,438.2 1289.1,448.2 1296.1,432.1 1303.0,420.4 1309.9,424.1 1316.8,430.6 1323.7,425.0 1330.6,429.3" fill="none" stroke="#3a2f9c" stroke-width="1.6" stroke-linejoin="round"/>
<polyline points="1068.1,433.2 1075.0,445.3 1081.9,456.5 1088.8,445.9 1095.7,440.7 1102.6,430.3 1109.5,426.6 1116.4,410.4 1123.3,426.0 1130.2,442.2 1137.2,419.1 1144.1,434.7 1151.0,405.4 1157.9,412.3 1164.8,406.0 1171.7,417.2 1178.6,437.2 1185.5,421.6 1192.4,440.9 1199.3,429.1 1206.2,422.5 1213.2,422.8 1220.1,407.0 1227.0,406.6 1233.9,413.7 1240.8,417.9 1247.7,415.4 1254.6,399.8 1261.5,392.3 1268.4,404.2 1275.3,409.7 1282.2,399.2 1289.1,410.0 1296.1,391.6 1303.0,374.3 1309.9,374.9 1316.8,389.1 1323.7,382.6 1330.6,391.8" fill="none" stroke="#3a2f9c" stroke-width="1.6" stroke-dasharray="11.4 4.8" stroke-linejoin="round"/>
<polyline points="1068.1,520.7 1075.0,507.0 1081.9,523.8 1088.8,512.6 1095.7,503.2 1102.6,522.5 1109.5,488.3 1116.4,497.6 1123.3,488.3 1130.2,516.9 1137.2,503.9 1144.1,492.0 1151.0,487.0 1157.9,497.0 1164.8,500.1 1171.7,500.7 1178.6,506.3 1185.5,483.9 1192.4,508.2 1199.3,493.3 1206.2,486.4 1213.2,501.4 1220.1,494.5 1227.0,481.4 1233.9,482.7 1240.8,498.9 1247.7,490.8 1254.6,495.1 1261.5,501.4 1268.4,481.4 1275.3,489.9 1282.2,476.9 1289.1,488.5 1296.1,472.8 1303.0,463.8 1309.9,468.4 1316.8,472.1 1323.7,469.3 1330.6,466.2" fill="none" stroke="#3a2f9c" stroke-width="1.6" stroke-dasharray="11.4 4.8" stroke-linejoin="round"/>
<polyline points="1344.4,418.6 1351.3,427.8 1358.2,421.3 1365.1,439.8 1372.1,423.2 1379.0,402.9 1385.9,415.8 1392.8,423.2 1399.7,414.9 1406.6,420.4 1413.5,411.2 1420.4,402.9 1427.3,414.9 1434.2,402.9 1441.1,404.7 1448.0,399.2 1455.0,416.7 1461.9,402.9 1468.8,409.3 1475.7,394.6 1482.6,391.8 1489.5,398.3 1496.4,390.9 1503.3,402.0 1510.2,403.8 1517.1,384.4 1524.0,390.0 1531.0,368.8 1537.9,384.4 1544.8,366.0 1551.7,372.5 1558.6,393.7 1565.5,382.6 1572.4,390.9 1579.3,374.3 1586.2,359.5 1593.1,371.5 1600.0,381.7 1606.9,391.8 1613.9,369.7 1620.8,373.1 1627.7,379.7 1634.6,358.8 1641.5,369.2 1648.4,374.8 1655.3,372.9 1662.2,356.1 1669.1,364.5 1676.0,372.9 1682.9,348.6 1689.9,362.6 1696.8,361.7 1703.7,363.6 1710.6,360.8 1717.5,346.8 1724.4,339.3 1731.3,333.7 1738.2,361.7 1745.1,371.1 1752.0,377.6 1758.9,373.9 1765.8,367.3 1772.8,346.8 1779.7,352.4 1786.6,348.6 1793.5,344.5 1800.4,346.8 1807.3,340.2 1814.2,333.7 1821.1,361.7 1828.0,352.4 1834.9,343.9 1841.8,325.2 1848.8,358.0 1855.7,335.5 1862.6,346.8 1869.5,344.9 1876.4,355.2 1883.3,352.4 1890.2,335.5 1897.1,348.6 1904.0,344.9 1910.9,353.9 1917.8,346.8 1924.7,344.5 1931.7,329.5 1938.6,329.9 1945.5,353.9 1952.4,343.9 1959.3,345.8 1966.2,335.5 1973.1,356.1 1980.0,344.9 1986.9,323.4" fill="none" stroke="#00a550" stroke-width="1.6" stroke-linejoin="round"/>
<polyline points="1344.4,376.1 1351.3,385.4 1358.2,380.8 1365.1,396.4 1372.1,379.8 1379.0,346.6 1385.9,372.5 1392.8,373.4 1399.7,371.5 1406.6,372.5 1413.5,362.3 1420.4,342.0 1427.3,357.7 1434.2,357.7 1441.1,366.9 1448.0,358.6 1455.0,356.8 1461.9,348.5 1468.8,362.3 1475.7,311.6 1482.6,350.3 1489.5,334.6 1496.4,343.9 1503.3,336.5 1510.2,353.1 1517.1,328.2 1524.0,342.0 1531.0,313.4 1537.9,325.4 1544.8,316.2 1551.7,319.9 1558.6,352.2 1565.5,329.1 1572.4,332.8 1579.3,313.4 1586.2,290.4 1593.1,309.7 1600.0,336.5 1606.9,338.3 1613.9,314.4 1620.8,318.3 1627.7,313.3 1634.6,299.8 1641.5,297.2 1648.4,324.3 1655.3,303.7 1662.2,309.3 1669.1,298.1 1676.0,310.3 1682.9,318.7 1689.9,278.5 1696.8,310.3 1703.7,313.1 1710.6,295.3 1717.5,295.3 1724.4,278.5 1731.3,276.6 1738.2,283.2 1745.1,309.3 1752.0,307.5 1758.9,310.8 1765.8,300.9 1772.8,266.3 1779.7,292.1 1786.6,286.0 1793.5,275.7 1800.4,285.0 1807.3,294.4 1814.2,267.3 1821.1,303.7 1828.0,295.3 1834.9,268.2 1841.8,247.6 1848.8,286.9 1855.7,249.5 1862.6,277.6 1869.5,278.5 1876.4,300.0 1883.3,300.9 1890.2,282.2 1897.1,273.8 1904.0,282.2 1910.9,300.9 1917.8,279.1 1924.7,279.1 1931.7,265.4 1938.6,255.1 1945.5,301.9 1952.4,269.1 1959.3,290.6 1966.2,251.4 1973.1,305.6 1980.0,261.7 1986.9,242.0" fill="none" stroke="#00a550" stroke-width="1.6" stroke-dasharray="11.4 4.8" stroke-linejoin="round"/>
<polyline points="1344.4,462.8 1351.3,467.4 1358.2,465.6 1365.1,482.2 1372.1,466.5 1379.0,455.5 1385.9,465.6 1392.8,478.5 1399.7,458.2 1406.6,473.0 1413.5,464.7 1420.4,465.6 1427.3,470.2 1434.2,446.2 1441.1,441.6 1448.0,437.9 1455.0,476.7 1461.9,456.4 1468.8,452.7 1475.7,479.4 1482.6,433.3 1489.5,461.0 1496.4,429.6 1503.3,467.4 1510.2,457.3 1517.1,436.1 1524.0,435.2 1531.0,427.8 1537.9,450.8 1544.8,415.8 1551.7,425.9 1558.6,435.2 1565.5,437.9 1572.4,449.0 1579.3,430.6 1586.2,429.6 1593.1,427.8 1600.0,413.0 1606.9,430.6 1613.9,444.4 1620.8,426.1 1627.7,426.6 1634.6,457.2 1641.5,416.9 1648.4,416.9 1655.3,445.9 1662.2,435.6 1669.1,416.9 1676.0,416.9 1682.9,428.2 1689.9,417.9 1696.8,416.0 1703.7,410.4 1710.6,431.9 1717.5,425.4 1724.4,411.3 1731.3,392.6 1738.2,433.8 1745.1,421.6 1752.0,437.5 1758.9,427.2 1765.8,426.3 1772.8,426.3 1779.7,415.1 1786.6,412.3 1793.5,412.3 1800.4,410.4 1807.3,385.2 1814.2,398.2 1821.1,416.9 1828.0,411.3 1834.9,416.9 1841.8,402.9 1848.8,429.1 1855.7,418.8 1862.6,415.1 1869.5,411.3 1876.4,407.6 1883.3,399.2 1890.2,388.9 1897.1,423.5 1904.0,407.6 1910.9,406.7 1917.8,414.1 1924.7,406.7 1931.7,395.4 1938.6,405.7 1945.5,407.6 1952.4,417.9 1959.3,400.1 1966.2,416.9 1973.1,407.6 1980.0,426.3 1986.9,408.5" fill="none" stroke="#00a550" stroke-width="1.6" stroke-dasharray="11.4 4.8" stroke-linejoin="round"/>
<polyline points="1344.4,430.6 1351.3,419.5 1358.2,418.6 1365.1,406.6 1372.1,423.2 1379.0,420.4 1385.9,418.6 1392.8,413.0 1399.7,427.8 1406.6,408.4 1413.5,411.2 1420.4,402.9 1427.3,419.5 1434.2,398.3 1441.1,386.3 1448.0,407.5 1455.0,378.9 1461.9,393.7 1468.8,390.0 1475.7,390.0 1482.6,397.4 1489.5,386.3 1496.4,403.8 1503.3,388.1 1510.2,403.8 1517.1,368.8 1524.0,394.6 1531.0,387.2 1537.9,379.8 1544.8,375.2 1551.7,384.4 1558.6,360.5 1565.5,378.0 1572.4,369.7 1579.3,371.5 1586.2,367.8 1593.1,354.9 1600.0,333.7 1606.9,355.9 1613.9,370.6 1620.8,363.4 1627.7,356.0 1634.6,346.2 1641.5,346.8 1648.4,324.3 1655.3,335.5 1662.2,316.8 1669.1,331.8 1676.0,317.8 1682.9,331.8 1689.9,312.2 1696.8,322.4 1703.7,329.9 1710.6,317.8 1717.5,319.6 1724.4,319.6 1731.3,311.2 1738.2,296.3 1745.1,292.5 1752.0,303.7 1758.9,296.3 1765.8,300.9 1772.8,300.9 1779.7,272.5 1786.6,271.0 1793.5,291.6 1800.4,261.7 1807.3,297.2 1814.2,278.5 1821.1,272.9 1828.0,263.5 1834.9,241.1 1841.8,254.2 1848.8,256.4 1855.7,256.0 1862.6,236.0 1869.5,241.6 1876.4,237.3 1883.3,237.3 1890.2,246.3 1897.1,226.1 1904.0,225.2 1910.9,236.4 1917.8,232.7 1924.7,226.1 1931.7,212.1 1938.6,199.9 1945.5,221.4 1952.4,207.0 1959.3,205.2 1966.2,194.3 1973.1,186.8 1980.0,178.8 1986.9,203.7" fill="none" stroke="#e3261c" stroke-width="1.6" stroke-linejoin="round"/>
<polyline points="1344.4,377.1 1351.3,363.2 1358.2,370.6 1365.1,365.1 1372.1,396.4 1379.0,384.4 1385.9,374.3 1392.8,366.9 1399.7,372.5 1406.6,365.1 1413.5,367.8 1420.4,352.2 1427.3,385.4 1434.2,352.2 1441.1,331.0 1448.0,356.8 1455.0,327.3 1461.9,349.4 1468.8,342.9 1475.7,344.8 1482.6,366.9 1489.5,350.3 1496.4,371.5 1503.3,324.5 1510.2,348.5 1517.1,300.5 1524.0,349.4 1531.0,336.5 1537.9,324.5 1544.8,330.0 1551.7,344.8 1558.6,302.4 1565.5,327.3 1572.4,328.2 1579.3,307.0 1586.2,299.6 1593.1,283.9 1600.0,268.2 1606.9,283.0 1613.9,332.8 1620.8,312.3 1627.7,297.9 1634.6,290.3 1641.5,290.6 1648.4,257.0 1655.3,273.8 1662.2,218.6 1669.1,249.5 1676.0,219.6 1682.9,281.3 1689.9,234.5 1696.8,260.7 1703.7,263.5 1710.6,271.0 1717.5,245.8 1724.4,236.4 1731.3,231.7 1738.2,235.5 1745.1,213.0 1752.0,222.4 1758.9,223.3 1765.8,208.4 1772.8,220.5 1779.7,195.3 1786.6,188.7 1793.5,208.4 1800.4,161.6 1807.3,218.6 1814.2,214.0 1821.1,185.0 1828.0,188.7 1834.9,149.4 1841.8,170.0 1848.8,160.7 1855.7,168.1 1862.6,139.2 1869.5,160.7 1876.4,155.1 1883.3,146.6 1890.2,151.3 1897.1,132.2 1904.0,138.2 1910.9,157.9 1917.8,133.5 1924.7,160.7 1931.7,99.9 1938.6,114.8 1945.5,129.8 1952.4,121.4 1959.3,117.7 1966.2,109.2 1973.1,91.5 1980.0,72.2 1986.9,90.5" fill="none" stroke="#e3261c" stroke-width="1.6" stroke-dasharray="11.4 4.8" stroke-linejoin="round"/>
<polyline points="1344.4,478.1 1351.3,473.0 1358.2,457.3 1365.1,443.5 1372.1,448.1 1379.0,453.6 1385.9,459.1 1392.8,463.8 1399.7,465.6 1406.6,446.2 1413.5,453.6 1420.4,454.5 1427.3,453.6 1434.2,441.6 1441.1,441.6 1448.0,455.5 1455.0,428.7 1461.9,437.0 1468.8,437.9 1475.7,435.2 1482.6,426.9 1489.5,422.3 1496.4,437.0 1503.3,450.8 1510.2,460.1 1517.1,433.3 1524.0,440.7 1531.0,437.9 1537.9,422.3 1544.8,416.7 1551.7,424.1 1558.6,418.6 1565.5,425.0 1572.4,412.1 1579.3,435.2 1586.2,437.0 1593.1,426.9 1600.0,400.1 1606.9,423.2 1613.9,408.4 1620.8,412.7 1627.7,413.6 1634.6,403.4 1641.5,404.8 1648.4,390.8 1655.3,398.2 1662.2,415.1 1669.1,416.9 1676.0,416.0 1682.9,385.2 1689.9,388.0 1696.8,384.2 1703.7,396.4 1710.6,364.6 1717.5,390.8 1724.4,402.0 1731.3,391.7 1738.2,359.9 1745.1,373.0 1752.0,384.2 1758.9,369.3 1765.8,393.6 1772.8,380.5 1779.7,347.7 1786.6,353.4 1793.5,375.8 1800.4,365.5 1807.3,374.9 1814.2,344.9 1821.1,361.8 1828.0,338.4 1834.9,333.7 1841.8,336.5 1848.8,352.4 1855.7,344.0 1862.6,330.9 1869.5,321.6 1876.4,321.6 1883.3,330.9 1890.2,340.3 1897.1,319.7 1904.0,312.2 1910.9,316.0 1917.8,333.7 1924.7,296.3 1931.7,322.5 1938.6,284.2 1945.5,312.2 1952.4,292.6 1959.3,291.6 1966.2,279.5 1973.1,280.4 1980.0,286.0 1986.9,316.0" fill="none" stroke="#e3261c" stroke-width="1.6" stroke-dasharray="11.4 4.8" stroke-linejoin="round"/>
<polyline points="1053.7,442.8 1056.2,467.1 1059.3,504.5 1061.5,524.4 1063.7,498.2 1066.8,467.1 1068.4,454.6 1070.6,479.6 1073.7,515.7 1079.3,516.9 1082.7,504.5 1086.1,479.6 1089.9,468.3 1094.2,467.1 1097.4,479.6 1101.1,504.5 1104.8,492.0 1109.8,469.6 1113.6,479.6 1117.9,488.3 1121.0,484.5 1124.8,473.3 1127.3,442.2 1129.8,411.0 1132.3,429.7 1134.7,479.6 1137.2,513.2 1141.6,516.9 1146.0,507.0 1150.9,482.0 1154.7,495.8 1159.0,506.3 1163.4,492.0 1168.4,460.9 1173.4,429.7 1178.7,404.8 1182.1,435.9 1187.1,467.1 1192.1,486.4 1199.6,484.5 1207.0,499.5 1212.0,485.8 1219.5,475.8 1227.0,464.6 1233.2,447.1 1240.7,452.8 1248.2,465.8 1251.9,435.9 1254.8,416.0 1259.4,448.4 1263.1,473.3 1268.1,486.4 1273.1,473.3 1273.7,473.0 1278.1,454.6 1278.3,452.7 1282.0,446.2 1282.4,444.7 1288.4,455.5 1289.3,455.9 1296.7,460.1 1298.0,460.9 1303.2,456.4 1309.7,447.2 1311.5,402.9 1315.2,366.0 1317.0,360.5 1319.8,393.7 1323.5,447.2 1329.0,449.0 1337.3,437.9 1343.8,457.3 1349.3,445.3 1353.9,412.1 1358.5,399.2 1364.1,414.0 1372.4,445.3 1377.0,412.1 1380.7,402.9 1386.2,421.3 1392.7,452.7 1396.3,402.9 1399.7,363.2 1403.7,393.7 1406.5,420.4 1410.2,393.7 1412.9,373.4 1420.3,373.4" fill="none" stroke="#f6ad1c" stroke-width="5.5" stroke-dasharray="12.5 4.2" stroke-linejoin="round"/>
</g>
<line x1="1058.1" y1="547.4" x2="1058.1" y2="550.8" stroke="#000" stroke-width="3.6"/>
<text x="1056.9" y="571.9" text-anchor="middle" font-family="Liberation Sans, sans-serif" font-size="20.0">1970</text>
<line x1="1196.2" y1="547.4" x2="1196.2" y2="550.8" stroke="#000" stroke-width="3.6"/>
<text x="1195.0" y="571.9" text-anchor="middle" font-family="Liberation Sans, sans-serif" font-size="20.0">1990</text>
<line x1="1334.4" y1="547.4" x2="1334.4" y2="550.8" stroke="#000" stroke-width="3.6"/>
<text x="1333.2" y="571.9" text-anchor="middle" font-family="Liberation Sans, sans-serif" font-size="20.0">2010</text>
<line x1="1472.6" y1="547.4" x2="1472.6" y2="550.8" stroke="#000" stroke-width="3.6"/>
<text x="1471.4" y="571.9" text-anchor="middle" font-family="Liberation Sans, sans-serif" font-size="20.0">2030</text>
<line x1="1610.7" y1="547.4" x2="1610.7" y2="550.8" stroke="#000" stroke-width="3.6"/>
<text x="1609.5" y="571.9" text-anchor="middle" font-family="Liberation Sans, sans-serif" font-size="20.0">2050</text>
<line x1="1748.9" y1="547.4" x2="1748.9" y2="550.8" stroke="#000" stroke-width="3.6"/>
<text x="1747.7" y="571.9" text-anchor="middle" font-family="Liberation Sans, sans-serif" font-size="20.0">2070</text>
<line x1="1887.1" y1="547.4" x2="1887.1" y2="550.8" stroke="#000" stroke-width="3.6"/>
<text x="1885.9" y="571.9" text-anchor="middle" font-family="Liberation Sans, sans-serif" font-size="20.0">2090</text>
<line x1="1048.5" y1="95.5" x2="1051.9" y2="95.5" stroke="#000" stroke-width="3.8"/>
<text x="1047.8" y="102.4" text-anchor="end" font-family="DejaVu Sans, sans-serif" font-size="18.7">26</text>
<line x1="1048.5" y1="164.1" x2="1051.9" y2="164.1" stroke="#000" stroke-width="3.8"/>
<text x="1047.8" y="171.0" text-anchor="end" font-family="DejaVu Sans, sans-serif" font-size="18.7">24</text>
<line x1="1048.5" y1="232.7" x2="1051.9" y2="232.7" stroke="#000" stroke-width="3.8"/>
<text x="1047.8" y="239.6" text-anchor="end" font-family="DejaVu Sans, sans-serif" font-size="18.7">22</text>
<line x1="1048.5" y1="301.3" x2="1051.9" y2="301.3" stroke="#000" stroke-width="3.8"/>
<text x="1047.8" y="308.2" text-anchor="end" font-family="DejaVu Sans, sans-serif" font-size="18.7">20</text>
<line x1="1048.5" y1="369.9" x2="1051.9" y2="369.9" stroke="#000" stroke-width="3.8"/>
<text x="1047.8" y="376.8" text-anchor="end" font-family="DejaVu Sans, sans-serif" font-size="18.7">18</text>
<line x1="1048.5" y1="438.5" x2="1051.9" y2="438.5" stroke="#000" stroke-width="3.8"/>
<text x="1047.8" y="445.4" text-anchor="end" font-family="DejaVu Sans, sans-serif" font-size="18.7">16</text>
<line x1="1048.5" y1="507.1" x2="1051.9" y2="507.1" stroke="#000" stroke-width="3.8"/>
<text x="1047.8" y="514.0" text-anchor="end" font-family="DejaVu Sans, sans-serif" font-size="18.7">14</text>
<rect x="1051.9" y="47.73" width="937.5999999999999" height="499.66999999999996" fill="none" stroke="#000" stroke-width="3.45"/>
<text x="1049.6" y="33.5" font-family="Liberation Sans, sans-serif" font-size="36">(b) Seasonal temperature in Chamonix (°C) — <tspan font-weight="bold">Summer</tspan></text>
<rect x="1059.3" y="55.1" width="126.79999999999995" height="113.30000000000001" rx="5" ry="5" fill="#fff" fill-opacity="0.8" stroke="#ccc" stroke-width="3.8"/>
<line x1="1065.8999999999999" y1="70.2" x2="1104.3" y2="70.2" stroke="#3a2f9c" stroke-width="1.6"/>
<text x="1117.4" y="76.5" font-family="DejaVu Sans, sans-serif" font-size="19.05">hist</text>
<line x1="1065.8999999999999" y1="97.07000000000001" x2="1104.3" y2="97.07000000000001" stroke="#00a550" stroke-width="1.6"/>
<text x="1117.4" y="103.4" font-family="DejaVu Sans, sans-serif" font-size="19.05">RCP45</text>
<line x1="1065.8999999999999" y1="123.94" x2="1104.3" y2="123.94" stroke="#e3261c" stroke-width="1.6"/>
<text x="1117.4" y="130.2" font-family="DejaVu Sans, sans-serif" font-size="19.05">RCP85</text>
<line x1="1065.8999999999999" y1="150.81" x2="1104.3" y2="150.81" stroke="#f6ad1c" stroke-width="5.5" stroke-dasharray="12.8 4.2"/>
<text x="1117.4" y="157.1" font-family="DejaVu Sans, sans-serif" font-size="19.05">OBS</text>
<clipPath id="clipc"><rect x="39.85" y="644.06" width="937.65" height="499.6700000000001"/></clipPath>
<g clip-path="url(#clipc)">
<polygon points="56.0,875.6 62.9,929.1 69.8,861.8 76.7,873.8 83.7,852.6 90.6,890.4 97.5,834.1 104.4,870.1 111.3,858.7 118.2,900.5 125.1,828.6 132.0,869.2 138.9,823.1 145.8,860.9 152.7,920.8 159.6,916.2 166.6,836.0 173.5,886.7 180.4,837.8 187.3,848.0 194.2,884.8 201.1,890.4 208.0,853.5 214.9,877.5 221.8,872.9 228.7,834.1 235.6,850.7 242.6,834.1 249.5,872.9 256.4,896.8 263.3,872.9 270.2,883.9 277.1,927.3 284.0,897.8 290.9,872.9 297.8,849.8 304.7,854.4 311.6,803.7 318.5,906.1 318.5,1039.8 311.6,1056.4 304.7,1037.0 297.8,1018.6 290.9,1027.8 284.0,1030.6 277.1,1037.9 270.2,1072.1 263.3,1065.6 256.4,1039.8 249.5,1032.4 242.6,1049.9 235.6,1036.1 228.7,1078.5 221.8,1041.6 214.9,1065.6 208.0,1025.9 201.1,1060.1 194.2,1027.8 187.3,1060.1 180.4,1040.7 173.5,1049.9 166.6,1046.2 159.6,1058.2 152.7,1074.8 145.8,1048.1 138.9,1070.2 132.0,1050.8 125.1,1061.0 118.2,1048.1 111.3,1060.1 104.4,1041.6 97.5,1061.9 90.6,1047.2 83.7,1032.4 76.7,1048.1 69.8,1022.3 62.9,1041.6 56.0,1029.6" fill="#3a2f9c" fill-opacity="0.2" stroke="none"/>
<polygon points="332.4,848.8 339.3,849.7 346.2,906.9 353.1,899.5 360.0,834.9 366.9,866.3 373.8,809.1 380.7,885.7 387.6,846.9 394.5,917.9 401.5,872.7 408.4,888.4 415.3,853.4 422.2,850.6 429.1,822.0 436.0,866.3 442.9,868.1 449.8,882.0 456.7,860.8 463.6,845.1 470.5,836.8 477.4,846.9 484.4,881.0 491.3,778.7 498.2,822.0 505.1,847.8 512.0,837.7 518.9,831.2 525.8,824.8 532.7,888.4 539.6,853.4 546.5,856.1 553.4,846.9 560.4,767.6 567.3,901.3 574.2,836.8 581.1,900.4 588.0,859.8 594.9,856.1 601.8,816.5 608.7,749.2 615.6,819.9 622.5,851.8 629.4,831.0 636.3,843.5 643.3,805.2 650.2,863.7 657.1,833.8 664.0,799.6 670.9,849.9 677.8,804.3 684.7,882.6 691.6,835.4 698.5,878.7 705.4,863.0 712.3,834.4 719.3,851.0 726.2,839.1 733.1,874.1 740.0,764.4 746.9,849.2 753.8,825.2 760.7,844.6 767.6,804.9 774.5,887.0 781.4,858.4 788.3,773.6 795.2,793.9 802.2,852.0 809.1,794.8 816.0,781.9 822.9,841.8 829.8,828.9 836.7,794.8 843.6,830.8 850.5,824.3 857.4,816.9 864.3,805.9 871.2,804.9 878.2,781.9 885.1,800.3 892.0,859.3 898.9,797.6 905.8,836.3 912.7,824.3 919.6,845.5 926.5,862.1 933.4,765.3 940.3,872.3 947.2,836.3 954.1,799.4 961.1,790.2 968.0,852.0 974.9,822.5 974.9,1028.4 968.0,1015.5 961.1,1036.7 954.1,1034.0 947.2,1014.6 940.3,1019.2 933.4,1058.9 926.5,1050.6 919.6,1008.1 912.7,1040.4 905.8,1014.6 898.9,999.8 892.0,1068.1 885.1,1041.3 878.2,999.8 871.2,1004.4 864.3,1041.3 857.4,1007.2 850.5,1027.5 843.6,1053.3 836.7,1030.3 829.8,1014.6 822.9,1031.2 816.0,1040.4 809.1,1021.0 802.2,1025.7 795.2,1003.5 788.3,1066.2 781.4,1034.9 774.5,1013.7 767.6,1071.8 760.7,1042.3 753.8,1015.5 746.9,1038.6 740.0,1010.9 733.1,986.9 726.2,1012.7 719.3,1033.0 712.3,1009.1 705.4,1029.3 698.5,1035.8 691.6,1042.3 684.7,1057.9 677.8,1035.8 670.9,1039.5 664.0,1063.0 657.1,1039.5 650.2,1023.8 643.3,1020.1 636.3,1031.7 629.4,1051.5 622.5,1033.0 615.6,1019.2 608.7,1025.7 601.8,1026.6 594.9,1024.7 588.0,1018.3 581.1,1028.4 574.2,1046.9 567.3,1042.3 560.4,1012.7 553.4,1048.7 546.5,1011.8 539.6,1023.8 532.7,1024.7 525.8,1069.0 518.9,1052.4 512.0,1048.7 505.1,1034.9 498.2,1051.5 491.3,1054.2 484.4,1061.6 477.4,1012.7 470.5,1016.4 463.6,1044.1 456.7,1053.3 449.8,1028.4 442.9,1049.6 436.0,1039.5 429.1,1003.5 422.2,1004.4 415.3,1033.0 408.4,1035.8 401.5,1035.8 394.5,1024.7 387.6,1013.7 380.7,1015.5 373.8,1013.7 366.9,1041.3 360.0,991.5 353.1,1024.7 346.2,1068.1 339.3,1050.6 332.4,1010.0" fill="#00a550" fill-opacity="0.2" stroke="none"/>
<polygon points="332.4,859.8 339.3,833.1 346.2,827.6 353.1,868.1 360.0,878.3 366.9,845.1 373.8,870.9 380.7,840.5 387.6,823.9 394.5,827.6 401.5,938.2 408.4,822.9 415.3,840.5 422.2,854.3 429.1,858.0 436.0,840.5 442.9,864.4 449.8,834.9 456.7,844.2 463.6,880.1 470.5,809.1 477.4,789.7 484.4,846.9 491.3,855.2 498.2,883.8 505.1,817.4 512.0,860.8 518.9,827.6 525.8,791.6 532.7,825.7 539.6,896.7 546.5,842.3 553.4,836.8 560.4,849.7 567.3,770.4 574.2,859.8 581.1,844.2 588.0,857.1 594.9,794.4 601.8,797.1 608.7,842.3 615.6,808.9 622.5,863.3 629.4,725.9 636.3,830.1 643.3,750.3 650.2,853.6 657.1,814.9 664.0,754.9 670.9,812.6 677.8,807.0 684.7,841.6 691.6,789.3 698.5,768.0 705.4,838.1 712.3,773.6 719.3,824.3 726.2,810.5 733.1,831.7 740.0,818.8 746.9,845.5 753.8,804.9 760.7,847.4 767.6,848.3 774.5,881.5 781.4,845.5 788.3,802.2 795.2,759.7 802.2,781.9 809.1,776.3 816.0,819.7 822.9,811.4 829.8,803.1 836.7,845.5 843.6,847.4 850.5,751.4 857.4,831.7 864.3,783.7 871.2,814.2 878.2,830.8 885.1,752.4 892.0,773.6 898.9,771.7 905.8,825.2 912.7,791.1 919.6,824.3 926.5,760.7 933.4,809.5 940.3,781.9 947.2,781.0 954.1,791.1 961.1,800.3 968.0,820.6 974.9,668.4 974.9,1014.6 968.0,1017.4 961.1,1015.5 954.1,988.8 947.2,1053.3 940.3,1009.1 933.4,1013.7 926.5,1004.4 919.6,988.8 912.7,1054.2 905.8,1034.0 898.9,1044.1 892.0,1011.8 885.1,1044.1 878.2,1012.7 871.2,1019.2 864.3,1061.6 857.4,1022.9 850.5,1046.9 843.6,1012.7 836.7,1017.4 829.8,1012.7 822.9,1045.0 816.0,992.5 809.1,991.5 802.2,1003.5 795.2,1001.7 788.3,1043.2 781.4,1067.2 774.5,1005.4 767.6,1010.0 760.7,1000.8 753.8,1032.1 746.9,1069.9 740.0,1011.8 733.1,1030.3 726.2,1036.7 719.3,1008.1 712.3,995.2 705.4,1035.8 698.5,1015.5 691.6,1027.5 684.7,1022.9 677.8,994.3 670.9,1010.9 664.0,994.3 657.1,1047.8 650.2,1007.2 643.3,1028.4 636.3,1047.8 629.4,1031.7 622.5,1014.1 615.6,1020.6 608.7,1034.9 601.8,1023.8 594.9,1029.3 588.0,1006.3 581.1,1018.3 574.2,1029.3 567.3,1040.4 560.4,1028.4 553.4,998.0 546.5,1039.5 539.6,1045.9 532.7,1043.2 525.8,1022.0 518.9,1022.0 512.0,1044.1 505.1,1073.6 498.2,1031.2 491.3,1034.0 484.4,994.3 477.4,1022.9 470.5,1069.9 463.6,1054.2 456.7,1040.4 449.8,999.8 442.9,1021.0 436.0,1020.1 429.1,1021.0 422.2,1006.3 415.3,1045.0 408.4,1017.4 401.5,1035.8 394.5,1020.1 387.6,1007.2 380.7,1008.1 373.8,1014.6 366.9,1047.8 360.0,1061.6 353.1,1050.6 346.2,1038.6 339.3,1047.8 332.4,1044.1" fill="#e3261c" fill-opacity="0.2" stroke="none"/>
<polyline points="56.0,951.2 62.9,992.7 69.8,942.9 76.7,953.1 83.7,942.0 90.6,967.8 97.5,947.6 104.4,956.8 111.3,960.5 118.2,975.2 125.1,945.7 132.0,959.5 138.9,945.7 145.8,947.6 152.7,1000.1 159.6,984.4 166.6,941.1 173.5,968.8 180.4,940.2 187.3,954.0 194.2,955.9 201.1,972.5 208.0,934.6 214.9,972.5 221.8,957.7 228.7,957.7 235.6,942.9 242.6,941.7 249.5,955.9 256.4,967.8 263.3,968.8 270.2,978.0 277.1,990.0 284.0,969.7 290.9,950.3 297.8,933.7 304.7,944.8 311.6,931.0 318.5,973.4" fill="none" stroke="#3a2f9c" stroke-width="1.6" stroke-linejoin="round"/>
<polyline points="56.0,875.6 62.9,929.1 69.8,861.8 76.7,873.8 83.7,852.6 90.6,890.4 97.5,834.1 104.4,870.1 111.3,858.7 118.2,900.5 125.1,828.6 132.0,869.2 138.9,823.1 145.8,860.9 152.7,920.8 159.6,916.2 166.6,836.0 173.5,886.7 180.4,837.8 187.3,848.0 194.2,884.8 201.1,890.4 208.0,853.5 214.9,877.5 221.8,872.9 228.7,834.1 235.6,850.7 242.6,834.1 249.5,872.9 256.4,896.8 263.3,872.9 270.2,883.9 277.1,927.3 284.0,897.8 290.9,872.9 297.8,849.8 304.7,854.4 311.6,803.7 318.5,906.1" fill="none" stroke="#3a2f9c" stroke-width="1.6" stroke-dasharray="11.4 4.8" stroke-linejoin="round"/>
<polyline points="56.0,1029.6 62.9,1041.6 69.8,1022.3 76.7,1048.1 83.7,1032.4 90.6,1047.2 97.5,1061.9 104.4,1041.6 111.3,1060.1 118.2,1048.1 125.1,1061.0 132.0,1050.8 138.9,1070.2 145.8,1048.1 152.7,1074.8 159.6,1058.2 166.6,1046.2 173.5,1049.9 180.4,1040.7 187.3,1060.1 194.2,1027.8 201.1,1060.1 208.0,1025.9 214.9,1065.6 221.8,1041.6 228.7,1078.5 235.6,1036.1 242.6,1049.9 249.5,1032.4 256.4,1039.8 263.3,1065.6 270.2,1072.1 277.1,1037.9 284.0,1030.6 290.9,1027.8 297.8,1018.6 304.7,1037.0 311.6,1056.4 318.5,1039.8" fill="none" stroke="#3a2f9c" stroke-width="1.6" stroke-dasharray="11.4 4.8" stroke-linejoin="round"/>
<polyline points="332.4,929.0 339.3,952.1 346.2,987.1 353.1,958.5 360.0,910.6 366.9,943.8 373.8,913.3 380.7,951.1 387.6,930.8 394.5,975.1 401.5,954.8 408.4,963.1 415.3,942.8 422.2,927.2 429.1,912.4 436.0,953.9 442.9,959.4 449.8,956.7 456.7,958.5 463.6,949.3 470.5,927.2 477.4,929.9 484.4,971.4 491.3,916.1 498.2,936.4 505.1,941.9 512.0,942.3 518.9,943.8 525.8,946.5 532.7,955.7 539.6,939.1 546.5,934.5 553.4,948.4 560.4,893.0 567.3,974.2 574.2,943.8 581.1,964.0 588.0,940.1 594.9,940.1 601.8,925.3 608.7,888.4 615.6,920.9 622.5,942.1 629.4,941.2 636.3,938.4 643.3,913.5 650.2,944.4 657.1,942.1 664.0,931.5 670.9,944.9 677.8,920.0 684.7,972.1 691.6,938.7 698.5,957.1 705.4,946.0 712.3,922.1 719.3,942.3 726.2,928.5 733.1,930.4 740.0,888.9 746.9,948.8 753.8,920.2 760.7,943.3 767.6,937.7 774.5,949.7 781.4,947.9 788.3,919.3 795.2,905.5 802.2,940.5 809.1,909.1 816.0,911.0 822.9,936.8 829.8,921.1 836.7,911.0 843.6,940.5 850.5,923.9 857.4,911.0 864.3,923.0 871.2,905.5 878.2,890.7 885.1,919.3 892.0,963.6 898.9,899.0 905.8,927.6 912.7,931.3 919.6,925.7 926.5,954.3 933.4,911.9 940.3,948.8 947.2,923.0 954.1,917.4 961.1,913.8 968.0,932.2 974.9,925.7" fill="none" stroke="#00a550" stroke-width="1.6" stroke-linejoin="round"/>
<polyline points="332.4,848.8 339.3,849.7 346.2,906.9 353.1,899.5 360.0,834.9 366.9,866.3 373.8,809.1 380.7,885.7 387.6,846.9 394.5,917.9 401.5,872.7 408.4,888.4 415.3,853.4 422.2,850.6 429.1,822.0 436.0,866.3 442.9,868.1 449.8,882.0 456.7,860.8 463.6,845.1 470.5,836.8 477.4,846.9 484.4,881.0 491.3,778.7 498.2,822.0 505.1,847.8 512.0,837.7 518.9,831.2 525.8,824.8 532.7,888.4 539.6,853.4 546.5,856.1 553.4,846.9 560.4,767.6 567.3,901.3 574.2,836.8 581.1,900.4 588.0,859.8 594.9,856.1 601.8,816.5 608.7,749.2 615.6,819.9 622.5,851.8 629.4,831.0 636.3,843.5 643.3,805.2 650.2,863.7 657.1,833.8 664.0,799.6 670.9,849.9 677.8,804.3 684.7,882.6 691.6,835.4 698.5,878.7 705.4,863.0 712.3,834.4 719.3,851.0 726.2,839.1 733.1,874.1 740.0,764.4 746.9,849.2 753.8,825.2 760.7,844.6 767.6,804.9 774.5,887.0 781.4,858.4 788.3,773.6 795.2,793.9 802.2,852.0 809.1,794.8 816.0,781.9 822.9,841.8 829.8,828.9 836.7,794.8 843.6,830.8 850.5,824.3 857.4,816.9 864.3,805.9 871.2,804.9 878.2,781.9 885.1,800.3 892.0,859.3 898.9,797.6 905.8,836.3 912.7,824.3 919.6,845.5 926.5,862.1 933.4,765.3 940.3,872.3 947.2,836.3 954.1,799.4 961.1,790.2 968.0,852.0 974.9,822.5" fill="none" stroke="#00a550" stroke-width="1.6" stroke-dasharray="11.4 4.8" stroke-linejoin="round"/>
<polyline points="332.4,1010.0 339.3,1050.6 346.2,1068.1 353.1,1024.7 360.0,991.5 366.9,1041.3 373.8,1013.7 380.7,1015.5 387.6,1013.7 394.5,1024.7 401.5,1035.8 408.4,1035.8 415.3,1033.0 422.2,1004.4 429.1,1003.5 436.0,1039.5 442.9,1049.6 449.8,1028.4 456.7,1053.3 463.6,1044.1 470.5,1016.4 477.4,1012.7 484.4,1061.6 491.3,1054.2 498.2,1051.5 505.1,1034.9 512.0,1048.7 518.9,1052.4 525.8,1069.0 532.7,1024.7 539.6,1023.8 546.5,1011.8 553.4,1048.7 560.4,1012.7 567.3,1042.3 574.2,1046.9 581.1,1028.4 588.0,1018.3 594.9,1024.7 601.8,1026.6 608.7,1025.7 615.6,1019.2 622.5,1033.0 629.4,1051.5 636.3,1031.7 643.3,1020.1 650.2,1023.8 657.1,1039.5 664.0,1063.0 670.9,1039.5 677.8,1035.8 684.7,1057.9 691.6,1042.3 698.5,1035.8 705.4,1029.3 712.3,1009.1 719.3,1033.0 726.2,1012.7 733.1,986.9 740.0,1010.9 746.9,1038.6 753.8,1015.5 760.7,1042.3 767.6,1071.8 774.5,1013.7 781.4,1034.9 788.3,1066.2 795.2,1003.5 802.2,1025.7 809.1,1021.0 816.0,1040.4 822.9,1031.2 829.8,1014.6 836.7,1030.3 843.6,1053.3 850.5,1027.5 857.4,1007.2 864.3,1041.3 871.2,1004.4 878.2,999.8 885.1,1041.3 892.0,1068.1 898.9,999.8 905.8,1014.6 912.7,1040.4 919.6,1008.1 926.5,1050.6 933.4,1058.9 940.3,1019.2 947.2,1014.6 954.1,1034.0 961.1,1036.7 968.0,1015.5 974.9,1028.4" fill="none" stroke="#00a550" stroke-width="1.6" stroke-dasharray="11.4 4.8" stroke-linejoin="round"/>
<polyline points="332.4,947.4 339.3,939.1 346.2,933.6 353.1,958.5 360.0,970.5 366.9,946.5 373.8,941.9 380.7,924.4 387.6,919.8 394.5,923.5 401.5,991.7 408.4,917.9 415.3,941.9 422.2,930.8 429.1,940.1 436.0,929.0 442.9,942.8 449.8,917.9 456.7,946.5 463.6,967.7 470.5,940.1 477.4,915.2 484.4,918.9 491.3,946.5 498.2,956.7 505.1,945.6 512.0,955.7 518.9,925.3 525.8,905.9 532.7,932.7 539.6,972.3 546.5,936.4 553.4,917.0 560.4,939.1 567.3,905.0 574.2,941.9 581.1,929.0 588.0,931.8 594.9,912.4 601.8,910.6 608.7,937.3 615.6,915.4 622.5,938.4 629.4,877.1 636.3,937.5 643.3,890.0 650.2,931.5 657.1,937.5 664.0,874.8 670.9,912.2 677.8,899.2 684.7,934.3 691.6,907.3 698.5,891.6 705.4,937.7 712.3,883.3 719.3,916.5 726.2,923.0 733.1,932.2 740.0,913.8 746.9,961.7 753.8,916.5 760.7,924.8 767.6,929.4 774.5,946.0 781.4,956.2 788.3,921.1 795.2,879.6 802.2,892.5 809.1,883.3 816.0,907.3 822.9,931.3 829.8,905.5 836.7,930.4 843.6,930.4 850.5,899.0 857.4,927.6 864.3,923.0 871.2,918.4 878.2,922.1 885.1,899.0 892.0,892.5 898.9,902.7 905.8,929.4 912.7,922.1 919.6,905.5 926.5,883.3 933.4,911.9 940.3,895.3 947.2,916.5 954.1,889.8 961.1,908.2 968.0,919.3 974.9,840.9" fill="none" stroke="#e3261c" stroke-width="1.6" stroke-linejoin="round"/>
<polyline points="332.4,859.8 339.3,833.1 346.2,827.6 353.1,868.1 360.0,878.3 366.9,845.1 373.8,870.9 380.7,840.5 387.6,823.9 394.5,827.6 401.5,938.2 408.4,822.9 415.3,840.5 422.2,854.3 429.1,858.0 436.0,840.5 442.9,864.4 449.8,834.9 456.7,844.2 463.6,880.1 470.5,809.1 477.4,789.7 484.4,846.9 491.3,855.2 498.2,883.8 505.1,817.4 512.0,860.8 518.9,827.6 525.8,791.6 532.7,825.7 539.6,896.7 546.5,842.3 553.4,836.8 560.4,849.7 567.3,770.4 574.2,859.8 581.1,844.2 588.0,857.1 594.9,794.4 601.8,797.1 608.7,842.3 615.6,808.9 622.5,863.3 629.4,725.9 636.3,830.1 643.3,750.3 650.2,853.6 657.1,814.9 664.0,754.9 670.9,812.6 677.8,807.0 684.7,841.6 691.6,789.3 698.5,768.0 705.4,838.1 712.3,773.6 719.3,824.3 726.2,810.5 733.1,831.7 740.0,818.8 746.9,845.5 753.8,804.9 760.7,847.4 767.6,848.3 774.5,881.5 781.4,845.5 788.3,802.2 795.2,759.7 802.2,781.9 809.1,776.3 816.0,819.7 822.9,811.4 829.8,803.1 836.7,845.5 843.6,847.4 850.5,751.4 857.4,831.7 864.3,783.7 871.2,814.2 878.2,830.8 885.1,752.4 892.0,773.6 898.9,771.7 905.8,825.2 912.7,791.1 919.6,824.3 926.5,760.7 933.4,809.5 940.3,781.9 947.2,781.0 954.1,791.1 961.1,800.3 968.0,820.6 974.9,668.4" fill="none" stroke="#e3261c" stroke-width="1.6" stroke-dasharray="11.4 4.8" stroke-linejoin="round"/>
<polyline points="332.4,1044.1 339.3,1047.8 346.2,1038.6 353.1,1050.6 360.0,1061.6 366.9,1047.8 373.8,1014.6 380.7,1008.1 387.6,1007.2 394.5,1020.1 401.5,1035.8 408.4,1017.4 415.3,1045.0 422.2,1006.3 429.1,1021.0 436.0,1020.1 442.9,1021.0 449.8,999.8 456.7,1040.4 463.6,1054.2 470.5,1069.9 477.4,1022.9 484.4,994.3 491.3,1034.0 498.2,1031.2 505.1,1073.6 512.0,1044.1 518.9,1022.0 525.8,1022.0 532.7,1043.2 539.6,1045.9 546.5,1039.5 553.4,998.0 560.4,1028.4 567.3,1040.4 574.2,1029.3 581.1,1018.3 588.0,1006.3 594.9,1029.3 601.8,1023.8 608.7,1034.9 615.6,1020.6 622.5,1014.1 629.4,1031.7 636.3,1047.8 643.3,1028.4 650.2,1007.2 657.1,1047.8 664.0,994.3 670.9,1010.9 677.8,994.3 684.7,1022.9 691.6,1027.5 698.5,1015.5 705.4,1035.8 712.3,995.2 719.3,1008.1 726.2,1036.7 733.1,1030.3 740.0,1011.8 746.9,1069.9 753.8,1032.1 760.7,1000.8 767.6,1010.0 774.5,1005.4 781.4,1067.2 788.3,1043.2 795.2,1001.7 802.2,1003.5 809.1,991.5 816.0,992.5 822.9,1045.0 829.8,1012.7 836.7,1017.4 843.6,1012.7 850.5,1046.9 857.4,1022.9 864.3,1061.6 871.2,1019.2 878.2,1012.7 885.1,1044.1 892.0,1011.8 898.9,1044.1 905.8,1034.0 912.7,1054.2 919.6,988.8 926.5,1004.4 933.4,1013.7 940.3,1009.1 947.2,1053.3 954.1,988.8 961.1,1015.5 968.0,1017.4 974.9,1014.6" fill="none" stroke="#e3261c" stroke-width="1.6" stroke-dasharray="11.4 4.8" stroke-linejoin="round"/>
<polyline points="40.4,1087.7 43.7,966.0 46.5,836.9 49.4,775.5 51.4,827.7 53.8,873.8 56.6,932.8 60.3,927.3 64.0,918.0 67.7,966.0 70.4,1002.9 74.1,956.8 76.9,912.5 79.7,984.4 83.3,1087.7 90.7,1111.7 97.2,1076.7 103.6,1037.9 111.0,1027.8 114.7,1076.7 118.4,1120.9 121.2,1021.3 123.0,910.7 125.8,851.6 128.5,873.8 131.9,918.0 135.9,883.0 140.5,850.7 146.1,852.6 148.8,910.7 152.9,998.3 158.0,956.8 165.4,938.3 173.7,937.4 177.4,975.2 181.1,999.2 191.2,984.4 201.4,972.5 204.2,1002.9 207.8,1045.3 210.6,966.0 215.2,873.8 218.0,947.6 221.7,1017.6 228.1,1026.9 235.5,1037.9 238.3,966.0 242.9,855.3 246.6,781.6 249.3,734.3 252.1,800.0 254.9,910.7 259.5,1021.3 263.6,1073.0 267.8,1002.9 273.3,940.2 277.9,921.7 285.3,966.0 291.8,1012.1 297.3,1039.8 301.0,984.4 305.1,958.6 311.1,984.4 318.5,1027.8 320.0,1028.4 325.5,1004.4 330.1,967.6 332.9,947.3 336.6,976.8 342.1,1004.4 347.7,1019.2 352.3,986.0 354.1,973.1 356.9,1013.7 360.6,1068.1 363.3,967.6 367.6,892.9 373.5,908.5 378.1,949.1 383.6,1004.4 387.9,1039.5 391.0,986.0 394.7,947.3 398.4,986.0 402.1,1090.2 403.9,967.6 405.8,856.9 407.8,782.2" fill="none" stroke="#f6ad1c" stroke-width="5.5" stroke-dasharray="12.5 4.2" stroke-linejoin="round"/>
</g>
<line x1="46.0" y1="1143.73" x2="46.0" y2="1147.13" stroke="#000" stroke-width="3.6"/>
<text x="44.8" y="1168.2" text-anchor="middle" font-family="Liberation Sans, sans-serif" font-size="20.0">1970</text>
<line x1="184.2" y1="1143.73" x2="184.2" y2="1147.13" stroke="#000" stroke-width="3.6"/>
<text x="183.0" y="1168.2" text-anchor="middle" font-family="Liberation Sans, sans-serif" font-size="20.0">1990</text>
<line x1="322.3" y1="1143.73" x2="322.3" y2="1147.13" stroke="#000" stroke-width="3.6"/>
<text x="321.1" y="1168.2" text-anchor="middle" font-family="Liberation Sans, sans-serif" font-size="20.0">2010</text>
<line x1="460.5" y1="1143.73" x2="460.5" y2="1147.13" stroke="#000" stroke-width="3.6"/>
<text x="459.3" y="1168.2" text-anchor="middle" font-family="Liberation Sans, sans-serif" font-size="20.0">2030</text>
<line x1="598.7" y1="1143.73" x2="598.7" y2="1147.13" stroke="#000" stroke-width="3.6"/>
<text x="597.5" y="1168.2" text-anchor="middle" font-family="Liberation Sans, sans-serif" font-size="20.0">2050</text>
<line x1="736.9" y1="1143.73" x2="736.9" y2="1147.13" stroke="#000" stroke-width="3.6"/>
<text x="735.7" y="1168.2" text-anchor="middle" font-family="Liberation Sans, sans-serif" font-size="20.0">2070</text>
<line x1="875.0" y1="1143.73" x2="875.0" y2="1147.13" stroke="#000" stroke-width="3.6"/>
<text x="873.8" y="1168.2" text-anchor="middle" font-family="Liberation Sans, sans-serif" font-size="20.0">2090</text>
<line x1="36.45" y1="684.7" x2="39.85" y2="684.7" stroke="#000" stroke-width="3.8"/>
<text x="34.2" y="691.6" text-anchor="end" font-family="DejaVu Sans, sans-serif" font-size="18.7">700</text>
<line x1="36.45" y1="755.5" x2="39.85" y2="755.5" stroke="#000" stroke-width="3.8"/>
<text x="34.2" y="762.4" text-anchor="end" font-family="DejaVu Sans, sans-serif" font-size="18.7">600</text>
<line x1="36.45" y1="826.3" x2="39.85" y2="826.3" stroke="#000" stroke-width="3.8"/>
<text x="34.2" y="833.2" text-anchor="end" font-family="DejaVu Sans, sans-serif" font-size="18.7">500</text>
<line x1="36.45" y1="897.1" x2="39.85" y2="897.1" stroke="#000" stroke-width="3.8"/>
<text x="34.2" y="904.0" text-anchor="end" font-family="DejaVu Sans, sans-serif" font-size="18.7">400</text>
<line x1="36.45" y1="967.9" x2="39.85" y2="967.9" stroke="#000" stroke-width="3.8"/>
<text x="34.2" y="974.8" text-anchor="end" font-family="DejaVu Sans, sans-serif" font-size="18.7">300</text>
<line x1="36.45" y1="1038.7" x2="39.85" y2="1038.7" stroke="#000" stroke-width="3.8"/>
<text x="34.2" y="1045.6" text-anchor="end" font-family="DejaVu Sans, sans-serif" font-size="18.7">200</text>
<line x1="36.45" y1="1109.5" x2="39.85" y2="1109.5" stroke="#000" stroke-width="3.8"/>
<text x="34.2" y="1116.4" text-anchor="end" font-family="DejaVu Sans, sans-serif" font-size="18.7">100</text>
<rect x="39.85" y="644.06" width="937.65" height="499.6700000000001" fill="none" stroke="#000" stroke-width="3.45"/>
<text x="40.8" y="628.8" font-family="Liberation Sans, sans-serif" font-size="36">(c) Seasonal precipitation in Chamonix (mm) — <tspan font-weight="bold">Winter</tspan></text>
<rect x="47.2" y="651.1" width="126.8" height="113.29999999999995" rx="5" ry="5" fill="#fff" fill-opacity="0.8" stroke="#ccc" stroke-width="3.8"/>
<line x1="53.800000000000004" y1="666.2" x2="92.2" y2="666.2" stroke="#3a2f9c" stroke-width="1.6"/>
<text x="105.3" y="672.5" font-family="DejaVu Sans, sans-serif" font-size="19.05">hist</text>
<line x1="53.800000000000004" y1="693.07" x2="92.2" y2="693.07" stroke="#00a550" stroke-width="1.6"/>
<text x="105.3" y="699.4" font-family="DejaVu Sans, sans-serif" font-size="19.05">RCP45</text>
<line x1="53.800000000000004" y1="719.94" x2="92.2" y2="719.94" stroke="#e3261c" stroke-width="1.6"/>
<text x="105.3" y="726.2" font-family="DejaVu Sans, sans-serif" font-size="19.05">RCP85</text>
<line x1="53.800000000000004" y1="746.8100000000001" x2="92.2" y2="746.8100000000001" stroke="#f6ad1c" stroke-width="5.5" stroke-dasharray="12.8 4.2"/>
<text x="105.3" y="753.1" font-family="DejaVu Sans, sans-serif" font-size="19.05">OBS</text>
<clipPath id="clipd"><rect x="1051.9" y="644.06" width="937.5999999999999" height="499.6700000000001"/></clipPath>
<g clip-path="url(#clipd)">
<polygon points="1068.1,816.9 1075.0,872.3 1081.9,809.5 1088.8,787.4 1095.7,792.0 1102.6,747.8 1109.5,780.0 1116.4,779.1 1123.3,798.5 1130.2,740.4 1137.2,813.2 1144.1,766.2 1151.0,777.3 1157.9,827.1 1164.8,822.5 1171.7,852.9 1178.6,788.3 1185.5,786.5 1192.4,812.3 1199.3,781.9 1206.2,780.0 1213.2,804.0 1220.1,788.3 1227.0,850.1 1233.9,838.1 1240.8,752.4 1247.7,765.3 1254.6,825.2 1261.5,824.3 1268.4,768.0 1275.3,719.2 1282.2,742.2 1289.1,789.3 1296.1,715.5 1303.0,817.8 1309.9,808.6 1316.8,778.2 1323.7,790.2 1330.6,816.0 1330.6,1015.5 1323.7,1004.4 1316.8,973.1 1309.9,986.0 1303.0,1034.0 1296.1,1013.7 1289.1,990.6 1282.2,995.2 1275.3,990.6 1268.4,1024.7 1261.5,1028.4 1254.6,1045.0 1247.7,992.5 1240.8,997.1 1233.9,1020.1 1227.0,1031.2 1220.1,982.3 1213.2,973.1 1206.2,998.0 1199.3,1023.8 1192.4,1030.3 1185.5,1001.7 1178.6,1002.6 1171.7,972.2 1164.8,1050.6 1157.9,998.9 1151.0,1037.6 1144.1,999.8 1137.2,1008.1 1130.2,1008.1 1123.3,1051.5 1116.4,1025.7 1109.5,1023.8 1102.6,977.7 1095.7,990.6 1088.8,1038.6 1081.9,996.1 1075.0,1015.5 1068.1,1032.1" fill="#3a2f9c" fill-opacity="0.2" stroke="none"/>
<polygon points="1344.4,759.7 1351.3,807.7 1358.2,742.2 1365.1,713.6 1372.1,814.2 1379.0,775.4 1385.9,832.6 1392.8,709.0 1399.7,733.9 1406.6,777.3 1413.5,746.8 1420.4,819.7 1427.3,803.1 1434.2,800.3 1441.1,782.8 1448.0,806.8 1455.0,770.8 1461.9,785.6 1468.8,781.0 1475.7,760.7 1482.6,805.9 1489.5,849.2 1496.4,832.6 1503.3,768.0 1510.2,737.6 1517.1,764.4 1524.0,808.6 1531.0,797.6 1537.9,796.6 1544.8,779.1 1551.7,770.8 1558.6,766.2 1565.5,766.2 1572.4,787.4 1579.3,823.4 1586.2,819.7 1593.1,740.4 1600.0,802.2 1606.9,828.0 1613.9,758.8 1620.8,779.1 1627.7,818.8 1634.6,786.5 1641.5,768.0 1648.4,820.6 1655.3,779.1 1662.2,785.6 1669.1,797.6 1676.0,762.5 1682.9,780.0 1689.9,810.5 1696.8,776.3 1703.7,752.4 1710.6,766.2 1717.5,818.8 1724.4,786.5 1731.3,761.6 1738.2,812.3 1745.1,769.9 1752.0,781.9 1758.9,789.3 1765.8,834.4 1772.8,781.9 1779.7,762.5 1786.6,762.5 1793.5,843.7 1800.4,760.7 1807.3,795.7 1814.2,806.8 1821.1,813.2 1828.0,804.9 1834.9,779.1 1841.8,804.0 1848.8,770.8 1855.7,816.9 1862.6,786.5 1869.5,797.6 1876.4,771.7 1883.3,757.0 1890.2,756.1 1897.1,804.9 1904.0,757.9 1910.9,789.3 1917.8,763.4 1924.7,775.4 1931.7,786.5 1938.6,769.9 1945.5,757.0 1952.4,781.9 1959.3,779.1 1966.2,730.2 1973.1,685.0 1980.0,726.5 1986.9,746.8 1986.9,1049.6 1980.0,1060.7 1973.1,1030.3 1966.2,1034.9 1959.3,1027.5 1952.4,1038.6 1945.5,1023.8 1938.6,1014.6 1931.7,1034.9 1924.7,1053.3 1917.8,1064.4 1910.9,951.0 1904.0,1081.9 1897.1,1026.6 1890.2,1038.6 1883.3,998.0 1876.4,1017.4 1869.5,1062.5 1862.6,1034.9 1855.7,1063.5 1848.8,983.2 1841.8,1071.8 1834.9,990.6 1828.0,1032.1 1821.1,1029.3 1814.2,1061.6 1807.3,1012.7 1800.4,1019.2 1793.5,1069.9 1786.6,1040.4 1779.7,1020.1 1772.8,1049.6 1765.8,997.1 1758.9,1026.6 1752.0,1036.7 1745.1,999.8 1738.2,1013.7 1731.3,1031.2 1724.4,1049.6 1717.5,1051.5 1710.6,1022.9 1703.7,1013.7 1696.8,1016.0 1689.9,1005.8 1682.9,998.5 1676.0,1004.9 1669.1,1020.1 1662.2,1023.8 1655.3,1012.3 1648.4,1012.3 1641.5,1018.3 1634.6,1012.3 1627.7,1012.7 1620.8,1027.5 1613.9,1018.3 1606.9,1010.0 1600.0,995.2 1593.1,1037.6 1586.2,1019.2 1579.3,984.2 1572.4,1024.7 1565.5,1035.8 1558.6,1027.5 1551.7,1038.6 1544.8,1018.3 1537.9,998.0 1531.0,1015.5 1524.0,1027.5 1517.1,1021.0 1510.2,1010.0 1503.3,1012.7 1496.4,1054.2 1489.5,989.7 1482.6,998.9 1475.7,986.9 1468.8,1022.0 1461.9,1020.1 1455.0,992.5 1448.0,985.1 1441.1,990.6 1434.2,1050.6 1427.3,1012.7 1420.4,1051.5 1413.5,970.3 1406.6,992.5 1399.7,1010.0 1392.8,1033.0 1385.9,997.1 1379.0,1022.9 1372.1,1014.6 1365.1,1018.3 1358.2,1012.7 1351.3,1030.3 1344.4,1028.4" fill="#00a550" fill-opacity="0.2" stroke="none"/>
<polygon points="1344.4,758.8 1351.3,735.8 1358.2,766.2 1365.1,770.8 1372.1,721.0 1379.0,778.2 1385.9,758.8 1392.8,769.9 1399.7,792.9 1406.6,747.8 1413.5,746.8 1420.4,789.3 1427.3,768.0 1434.2,759.7 1441.1,787.4 1448.0,758.8 1455.0,771.7 1461.9,850.1 1468.8,743.1 1475.7,744.1 1482.6,822.5 1489.5,770.8 1496.4,757.9 1503.3,748.7 1510.2,792.9 1517.1,769.9 1524.0,784.6 1531.0,802.2 1537.9,781.9 1544.8,774.5 1551.7,721.9 1558.6,777.3 1565.5,718.2 1572.4,785.6 1579.3,693.3 1586.2,789.3 1593.1,775.4 1600.0,797.6 1606.9,802.2 1613.9,667.5 1620.8,720.1 1627.7,790.2 1634.6,781.0 1641.5,728.4 1648.4,842.7 1655.3,701.2 1662.2,745.0 1669.1,760.2 1676.0,800.3 1682.9,769.4 1689.9,795.7 1696.8,825.2 1703.7,796.6 1710.6,792.0 1717.5,784.6 1724.4,806.8 1731.3,795.7 1738.2,777.3 1745.1,787.4 1752.0,701.6 1758.9,831.7 1765.8,828.0 1772.8,793.9 1779.7,881.5 1786.6,875.0 1793.5,823.4 1800.4,810.5 1807.3,760.7 1814.2,795.7 1821.1,799.4 1828.0,770.8 1834.9,819.7 1841.8,810.5 1848.8,792.0 1855.7,796.6 1862.6,739.5 1869.5,833.5 1876.4,823.4 1883.3,759.7 1890.2,740.4 1897.1,824.3 1904.0,872.3 1910.9,795.7 1917.8,806.8 1924.7,781.0 1931.7,806.8 1938.6,831.7 1945.5,826.1 1952.4,800.3 1959.3,827.1 1966.2,772.7 1973.1,821.5 1980.0,746.8 1986.9,807.7 1986.9,1081.9 1980.0,1124.3 1973.1,1067.2 1966.2,1078.2 1959.3,1088.4 1952.4,1061.6 1945.5,1080.1 1938.6,1094.8 1931.7,1112.3 1924.7,1083.8 1917.8,1034.0 1910.9,1069.9 1904.0,1057.9 1897.1,1048.7 1890.2,1077.3 1883.3,1098.5 1876.4,1058.9 1869.5,1065.3 1862.6,1106.8 1855.7,1053.3 1848.8,1069.9 1841.8,1057.9 1834.9,1086.5 1828.0,1028.4 1821.1,1044.1 1814.2,1045.9 1807.3,1038.6 1800.4,1064.4 1793.5,988.8 1786.6,1045.0 1779.7,1067.2 1772.8,1022.0 1765.8,1045.9 1758.9,1044.1 1752.0,1029.3 1745.1,1032.1 1738.2,999.8 1731.3,1015.5 1724.4,1019.2 1717.5,1022.9 1710.6,1070.8 1703.7,1061.6 1696.8,1054.7 1689.9,1041.3 1682.9,1043.2 1676.0,1028.4 1669.1,1015.5 1662.2,1065.3 1655.3,1067.2 1648.4,1053.8 1641.5,1009.5 1634.6,1038.1 1627.7,1034.0 1620.8,976.8 1613.9,1008.1 1606.9,1032.1 1600.0,1078.2 1593.1,1041.3 1586.2,1012.7 1579.3,1031.2 1572.4,990.6 1565.5,1036.7 1558.6,978.6 1551.7,1029.3 1544.8,1011.8 1537.9,1030.3 1531.0,1024.7 1524.0,1010.9 1517.1,969.4 1510.2,1034.0 1503.3,1018.3 1496.4,973.1 1489.5,993.4 1482.6,1004.4 1475.7,970.3 1468.8,1014.6 1461.9,1006.3 1455.0,1024.7 1448.0,986.0 1441.1,1049.6 1434.2,1024.7 1427.3,1015.5 1420.4,1020.1 1413.5,1014.6 1406.6,974.9 1399.7,1012.7 1392.8,976.8 1385.9,1002.6 1379.0,1010.0 1372.1,967.6 1365.1,1027.5 1358.2,992.5 1351.3,1059.8 1344.4,997.1" fill="#e3261c" fill-opacity="0.2" stroke="none"/>
<polyline points="1068.1,923.9 1075.0,944.2 1081.9,903.6 1088.8,912.8 1095.7,891.6 1102.6,858.4 1109.5,901.8 1116.4,902.7 1123.3,923.9 1130.2,874.1 1137.2,911.9 1144.1,884.2 1151.0,906.4 1157.9,911.9 1164.8,935.9 1171.7,916.5 1178.6,904.5 1185.5,892.5 1192.4,926.7 1199.3,901.8 1206.2,888.9 1213.2,887.9 1220.1,884.2 1227.0,947.0 1233.9,930.4 1240.8,874.1 1247.7,879.6 1254.6,932.2 1261.5,924.8 1268.4,898.1 1275.3,853.8 1282.2,870.4 1289.1,889.8 1296.1,871.3 1303.0,926.7 1309.9,898.1 1316.8,875.0 1323.7,897.2 1330.6,916.5" fill="none" stroke="#3a2f9c" stroke-width="1.6" stroke-linejoin="round"/>
<polyline points="1068.1,816.9 1075.0,872.3 1081.9,809.5 1088.8,787.4 1095.7,792.0 1102.6,747.8 1109.5,780.0 1116.4,779.1 1123.3,798.5 1130.2,740.4 1137.2,813.2 1144.1,766.2 1151.0,777.3 1157.9,827.1 1164.8,822.5 1171.7,852.9 1178.6,788.3 1185.5,786.5 1192.4,812.3 1199.3,781.9 1206.2,780.0 1213.2,804.0 1220.1,788.3 1227.0,850.1 1233.9,838.1 1240.8,752.4 1247.7,765.3 1254.6,825.2 1261.5,824.3 1268.4,768.0 1275.3,719.2 1282.2,742.2 1289.1,789.3 1296.1,715.5 1303.0,817.8 1309.9,808.6 1316.8,778.2 1323.7,790.2 1330.6,816.0" fill="none" stroke="#3a2f9c" stroke-width="1.6" stroke-dasharray="11.4 4.8" stroke-linejoin="round"/>
<polyline points="1068.1,1032.1 1075.0,1015.5 1081.9,996.1 1088.8,1038.6 1095.7,990.6 1102.6,977.7 1109.5,1023.8 1116.4,1025.7 1123.3,1051.5 1130.2,1008.1 1137.2,1008.1 1144.1,999.8 1151.0,1037.6 1157.9,998.9 1164.8,1050.6 1171.7,972.2 1178.6,1002.6 1185.5,1001.7 1192.4,1030.3 1199.3,1023.8 1206.2,998.0 1213.2,973.1 1220.1,982.3 1227.0,1031.2 1233.9,1020.1 1240.8,997.1 1247.7,992.5 1254.6,1045.0 1261.5,1028.4 1268.4,1024.7 1275.3,990.6 1282.2,995.2 1289.1,990.6 1296.1,1013.7 1303.0,1034.0 1309.9,986.0 1316.8,973.1 1323.7,1004.4 1330.6,1015.5" fill="none" stroke="#3a2f9c" stroke-width="1.6" stroke-dasharray="11.4 4.8" stroke-linejoin="round"/>
<polyline points="1344.4,890.7 1351.3,918.4 1358.2,880.6 1365.1,868.6 1372.1,914.7 1379.0,900.8 1385.9,909.1 1392.8,871.3 1399.7,876.9 1406.6,887.0 1413.5,860.3 1420.4,935.0 1427.3,907.3 1434.2,925.7 1441.1,887.0 1448.0,895.3 1455.0,880.6 1461.9,903.6 1468.8,900.8 1475.7,873.2 1482.6,904.5 1489.5,921.1 1496.4,942.3 1503.3,889.8 1510.2,874.1 1517.1,896.2 1524.0,918.4 1531.0,906.4 1537.9,897.2 1544.8,899.9 1551.7,904.5 1558.6,898.1 1565.5,901.8 1572.4,909.1 1579.3,904.5 1586.2,922.1 1593.1,890.7 1600.0,900.8 1606.9,918.4 1613.9,887.9 1620.8,900.8 1627.7,924.8 1634.6,888.9 1641.5,896.7 1648.4,913.3 1655.3,898.1 1662.2,896.2 1669.1,919.3 1676.0,881.5 1682.9,895.3 1689.9,898.1 1696.8,907.3 1703.7,883.3 1710.6,894.4 1717.5,935.0 1724.4,912.8 1731.3,896.2 1738.2,912.8 1745.1,885.2 1752.0,911.0 1758.9,905.5 1765.8,915.6 1772.8,918.4 1779.7,891.6 1786.6,901.8 1793.5,957.1 1800.4,891.6 1807.3,904.5 1814.2,935.0 1821.1,922.1 1828.0,920.2 1834.9,885.2 1841.8,934.0 1848.8,876.9 1855.7,940.5 1862.6,911.0 1869.5,932.2 1876.4,893.5 1883.3,878.7 1890.2,898.1 1897.1,915.6 1904.0,919.3 1910.9,871.3 1917.8,913.8 1924.7,913.4 1931.7,911.0 1938.6,890.7 1945.5,889.8 1952.4,909.1 1959.3,902.7 1966.2,887.0 1973.1,858.4 1980.0,894.4 1986.9,897.2" fill="none" stroke="#00a550" stroke-width="1.6" stroke-linejoin="round"/>
<polyline points="1344.4,759.7 1351.3,807.7 1358.2,742.2 1365.1,713.6 1372.1,814.2 1379.0,775.4 1385.9,832.6 1392.8,709.0 1399.7,733.9 1406.6,777.3 1413.5,746.8 1420.4,819.7 1427.3,803.1 1434.2,800.3 1441.1,782.8 1448.0,806.8 1455.0,770.8 1461.9,785.6 1468.8,781.0 1475.7,760.7 1482.6,805.9 1489.5,849.2 1496.4,832.6 1503.3,768.0 1510.2,737.6 1517.1,764.4 1524.0,808.6 1531.0,797.6 1537.9,796.6 1544.8,779.1 1551.7,770.8 1558.6,766.2 1565.5,766.2 1572.4,787.4 1579.3,823.4 1586.2,819.7 1593.1,740.4 1600.0,802.2 1606.9,828.0 1613.9,758.8 1620.8,779.1 1627.7,818.8 1634.6,786.5 1641.5,768.0 1648.4,820.6 1655.3,779.1 1662.2,785.6 1669.1,797.6 1676.0,762.5 1682.9,780.0 1689.9,810.5 1696.8,776.3 1703.7,752.4 1710.6,766.2 1717.5,818.8 1724.4,786.5 1731.3,761.6 1738.2,812.3 1745.1,769.9 1752.0,781.9 1758.9,789.3 1765.8,834.4 1772.8,781.9 1779.7,762.5 1786.6,762.5 1793.5,843.7 1800.4,760.7 1807.3,795.7 1814.2,806.8 1821.1,813.2 1828.0,804.9 1834.9,779.1 1841.8,804.0 1848.8,770.8 1855.7,816.9 1862.6,786.5 1869.5,797.6 1876.4,771.7 1883.3,757.0 1890.2,756.1 1897.1,804.9 1904.0,757.9 1910.9,789.3 1917.8,763.4 1924.7,775.4 1931.7,786.5 1938.6,769.9 1945.5,757.0 1952.4,781.9 1959.3,779.1 1966.2,730.2 1973.1,685.0 1980.0,726.5 1986.9,746.8" fill="none" stroke="#00a550" stroke-width="1.6" stroke-dasharray="11.4 4.8" stroke-linejoin="round"/>
<polyline points="1344.4,1028.4 1351.3,1030.3 1358.2,1012.7 1365.1,1018.3 1372.1,1014.6 1379.0,1022.9 1385.9,997.1 1392.8,1033.0 1399.7,1010.0 1406.6,992.5 1413.5,970.3 1420.4,1051.5 1427.3,1012.7 1434.2,1050.6 1441.1,990.6 1448.0,985.1 1455.0,992.5 1461.9,1020.1 1468.8,1022.0 1475.7,986.9 1482.6,998.9 1489.5,989.7 1496.4,1054.2 1503.3,1012.7 1510.2,1010.0 1517.1,1021.0 1524.0,1027.5 1531.0,1015.5 1537.9,998.0 1544.8,1018.3 1551.7,1038.6 1558.6,1027.5 1565.5,1035.8 1572.4,1024.7 1579.3,984.2 1586.2,1019.2 1593.1,1037.6 1600.0,995.2 1606.9,1010.0 1613.9,1018.3 1620.8,1027.5 1627.7,1012.7 1634.6,1012.3 1641.5,1018.3 1648.4,1012.3 1655.3,1012.3 1662.2,1023.8 1669.1,1020.1 1676.0,1004.9 1682.9,998.5 1689.9,1005.8 1696.8,1016.0 1703.7,1013.7 1710.6,1022.9 1717.5,1051.5 1724.4,1049.6 1731.3,1031.2 1738.2,1013.7 1745.1,999.8 1752.0,1036.7 1758.9,1026.6 1765.8,997.1 1772.8,1049.6 1779.7,1020.1 1786.6,1040.4 1793.5,1069.9 1800.4,1019.2 1807.3,1012.7 1814.2,1061.6 1821.1,1029.3 1828.0,1032.1 1834.9,990.6 1841.8,1071.8 1848.8,983.2 1855.7,1063.5 1862.6,1034.9 1869.5,1062.5 1876.4,1017.4 1883.3,998.0 1890.2,1038.6 1897.1,1026.6 1904.0,1081.9 1910.9,951.0 1917.8,1064.4 1924.7,1053.3 1931.7,1034.9 1938.6,1014.6 1945.5,1023.8 1952.4,1038.6 1959.3,1027.5 1966.2,1034.9 1973.1,1030.3 1980.0,1060.7 1986.9,1049.6" fill="none" stroke="#00a550" stroke-width="1.6" stroke-dasharray="11.4 4.8" stroke-linejoin="round"/>
<polyline points="1344.4,877.8 1351.3,898.1 1358.2,880.6 1365.1,899.9 1372.1,847.4 1379.0,895.3 1385.9,881.5 1392.8,874.1 1399.7,903.6 1406.6,862.1 1413.5,882.4 1420.4,903.6 1427.3,892.5 1434.2,892.5 1441.1,921.1 1448.0,870.4 1455.0,896.2 1461.9,927.6 1468.8,879.6 1475.7,857.5 1482.6,913.8 1489.5,881.5 1496.4,865.8 1503.3,883.3 1510.2,913.8 1517.1,869.5 1524.0,892.5 1531.0,912.8 1537.9,905.5 1544.8,894.4 1551.7,875.9 1558.6,877.8 1565.5,877.8 1572.4,887.9 1579.3,864.0 1586.2,896.2 1593.1,909.1 1600.0,937.7 1606.9,917.4 1613.9,839.1 1620.8,851.0 1627.7,911.9 1634.6,909.1 1641.5,869.0 1648.4,947.0 1655.3,885.2 1662.2,905.5 1669.1,887.5 1676.0,914.2 1682.9,901.8 1689.9,917.0 1696.8,933.6 1703.7,927.6 1710.6,926.7 1717.5,927.6 1724.4,913.8 1731.3,905.5 1738.2,888.9 1745.1,911.0 1752.0,865.8 1758.9,937.7 1765.8,937.7 1772.8,911.9 1779.7,974.6 1786.6,962.6 1793.5,906.4 1800.4,937.7 1807.3,899.9 1814.2,921.1 1821.1,922.1 1828.0,899.9 1834.9,953.4 1841.8,935.0 1848.8,931.3 1855.7,924.8 1862.6,923.0 1869.5,948.8 1876.4,940.5 1883.3,936.8 1890.2,910.1 1897.1,943.3 1904.0,965.4 1910.9,932.2 1917.8,922.1 1924.7,935.0 1931.7,958.0 1938.6,961.7 1945.5,952.5 1952.4,930.4 1959.3,958.0 1966.2,926.7 1973.1,944.2 1980.0,935.0 1986.9,944.2" fill="none" stroke="#e3261c" stroke-width="1.6" stroke-linejoin="round"/>
<polyline points="1344.4,758.8 1351.3,735.8 1358.2,766.2 1365.1,770.8 1372.1,721.0 1379.0,778.2 1385.9,758.8 1392.8,769.9 1399.7,792.9 1406.6,747.8 1413.5,746.8 1420.4,789.3 1427.3,768.0 1434.2,759.7 1441.1,787.4 1448.0,758.8 1455.0,771.7 1461.9,850.1 1468.8,743.1 1475.7,744.1 1482.6,822.5 1489.5,770.8 1496.4,757.9 1503.3,748.7 1510.2,792.9 1517.1,769.9 1524.0,784.6 1531.0,802.2 1537.9,781.9 1544.8,774.5 1551.7,721.9 1558.6,777.3 1565.5,718.2 1572.4,785.6 1579.3,693.3 1586.2,789.3 1593.1,775.4 1600.0,797.6 1606.9,802.2 1613.9,667.5 1620.8,720.1 1627.7,790.2 1634.6,781.0 1641.5,728.4 1648.4,842.7 1655.3,701.2 1662.2,745.0 1669.1,760.2 1676.0,800.3 1682.9,769.4 1689.9,795.7 1696.8,825.2 1703.7,796.6 1710.6,792.0 1717.5,784.6 1724.4,806.8 1731.3,795.7 1738.2,777.3 1745.1,787.4 1752.0,701.6 1758.9,831.7 1765.8,828.0 1772.8,793.9 1779.7,881.5 1786.6,875.0 1793.5,823.4 1800.4,810.5 1807.3,760.7 1814.2,795.7 1821.1,799.4 1828.0,770.8 1834.9,819.7 1841.8,810.5 1848.8,792.0 1855.7,796.6 1862.6,739.5 1869.5,833.5 1876.4,823.4 1883.3,759.7 1890.2,740.4 1897.1,824.3 1904.0,872.3 1910.9,795.7 1917.8,806.8 1924.7,781.0 1931.7,806.8 1938.6,831.7 1945.5,826.1 1952.4,800.3 1959.3,827.1 1966.2,772.7 1973.1,821.5 1980.0,746.8 1986.9,807.7" fill="none" stroke="#e3261c" stroke-width="1.6" stroke-dasharray="11.4 4.8" stroke-linejoin="round"/>
<polyline points="1344.4,997.1 1351.3,1059.8 1358.2,992.5 1365.1,1027.5 1372.1,967.6 1379.0,1010.0 1385.9,1002.6 1392.8,976.8 1399.7,1012.7 1406.6,974.9 1413.5,1014.6 1420.4,1020.1 1427.3,1015.5 1434.2,1024.7 1441.1,1049.6 1448.0,986.0 1455.0,1024.7 1461.9,1006.3 1468.8,1014.6 1475.7,970.3 1482.6,1004.4 1489.5,993.4 1496.4,973.1 1503.3,1018.3 1510.2,1034.0 1517.1,969.4 1524.0,1010.9 1531.0,1024.7 1537.9,1030.3 1544.8,1011.8 1551.7,1029.3 1558.6,978.6 1565.5,1036.7 1572.4,990.6 1579.3,1031.2 1586.2,1012.7 1593.1,1041.3 1600.0,1078.2 1606.9,1032.1 1613.9,1008.1 1620.8,976.8 1627.7,1034.0 1634.6,1038.1 1641.5,1009.5 1648.4,1053.8 1655.3,1067.2 1662.2,1065.3 1669.1,1015.5 1676.0,1028.4 1682.9,1043.2 1689.9,1041.3 1696.8,1054.7 1703.7,1061.6 1710.6,1070.8 1717.5,1022.9 1724.4,1019.2 1731.3,1015.5 1738.2,999.8 1745.1,1032.1 1752.0,1029.3 1758.9,1044.1 1765.8,1045.9 1772.8,1022.0 1779.7,1067.2 1786.6,1045.0 1793.5,988.8 1800.4,1064.4 1807.3,1038.6 1814.2,1045.9 1821.1,1044.1 1828.0,1028.4 1834.9,1086.5 1841.8,1057.9 1848.8,1069.9 1855.7,1053.3 1862.6,1106.8 1869.5,1065.3 1876.4,1058.9 1883.3,1098.5 1890.2,1077.3 1897.1,1048.7 1904.0,1057.9 1910.9,1069.9 1917.8,1034.0 1924.7,1083.8 1931.7,1112.3 1938.6,1094.8 1945.5,1080.1 1952.4,1061.6 1959.3,1088.4 1966.2,1078.2 1973.1,1067.2 1980.0,1124.3 1986.9,1081.9" fill="none" stroke="#e3261c" stroke-width="1.6" stroke-dasharray="11.4 4.8" stroke-linejoin="round"/>
<polyline points="1054.2,768.4 1061.2,822.0 1068.1,880.6 1075.0,805.8 1081.9,802.7 1088.8,843.2 1095.7,749.7 1102.6,936.0 1109.6,830.7 1116.5,880.8 1123.4,931.7 1130.3,982.8 1137.2,807.7 1144.1,833.2 1151.1,832.0 1158.0,789.6 1164.9,885.0 1171.8,822.0 1178.7,1055.7 1185.6,924.8 1192.5,792.1 1199.5,889.9 1206.4,741.0 1213.3,878.1 1220.2,922.3 1227.1,820.8 1234.0,897.4 1241.0,815.8 1247.9,872.5 1254.8,927.9 1261.7,982.8 1268.6,802.1 1275.5,790.9 1282.4,839.5 1289.4,822.0 1296.3,872.5 1303.2,672.5 1310.1,834.5 1317.0,866.9 1323.9,811.4 1330.9,756.6 1337.8,843.2 1344.7,692.4 1351.6,797.6 1358.5,867.6 1365.4,875.0 1372.4,834.5 1379.3,852.9 1386.2,908.3 1393.1,771.8 1400.0,850.2 1406.9,854.8 1413.8,865.8 1420.8,950.6" fill="none" stroke="#f6ad1c" stroke-width="5.5" stroke-dasharray="12.5 4.2" stroke-linejoin="round"/>
</g>
<line x1="1058.1" y1="1143.73" x2="1058.1" y2="1147.13" stroke="#000" stroke-width="3.6"/>
<text x="1056.9" y="1168.2" text-anchor="middle" font-family="Liberation Sans, sans-serif" font-size="20.0">1970</text>
<line x1="1196.2" y1="1143.73" x2="1196.2" y2="1147.13" stroke="#000" stroke-width="3.6"/>
<text x="1195.0" y="1168.2" text-anchor="middle" font-family="Liberation Sans, sans-serif" font-size="20.0">1990</text>
<line x1="1334.4" y1="1143.73" x2="1334.4" y2="1147.13" stroke="#000" stroke-width="3.6"/>
<text x="1333.2" y="1168.2" text-anchor="middle" font-family="Liberation Sans, sans-serif" font-size="20.0">2010</text>
<line x1="1472.6" y1="1143.73" x2="1472.6" y2="1147.13" stroke="#000" stroke-width="3.6"/>
<text x="1471.4" y="1168.2" text-anchor="middle" font-family="Liberation Sans, sans-serif" font-size="20.0">2030</text>
<line x1="1610.7" y1="1143.73" x2="1610.7" y2="1147.13" stroke="#000" stroke-width="3.6"/>
<text x="1609.5" y="1168.2" text-anchor="middle" font-family="Liberation Sans, sans-serif" font-size="20.0">2050</text>
<line x1="1748.9" y1="1143.73" x2="1748.9" y2="1147.13" stroke="#000" stroke-width="3.6"/>
<text x="1747.7" y="1168.2" text-anchor="middle" font-family="Liberation Sans, sans-serif" font-size="20.0">2070</text>
<line x1="1887.1" y1="1143.73" x2="1887.1" y2="1147.13" stroke="#000" stroke-width="3.6"/>
<text x="1885.9" y="1168.2" text-anchor="middle" font-family="Liberation Sans, sans-serif" font-size="20.0">2090</text>
<line x1="1048.5" y1="656.9" x2="1051.9" y2="656.9" stroke="#000" stroke-width="3.8"/>
<text x="1046.5" y="663.8" text-anchor="end" font-family="DejaVu Sans, sans-serif" font-size="18.7">600</text>
<line x1="1048.5" y1="741.1" x2="1051.9" y2="741.1" stroke="#000" stroke-width="3.8"/>
<text x="1046.5" y="748.0" text-anchor="end" font-family="DejaVu Sans, sans-serif" font-size="18.7">500</text>
<line x1="1048.5" y1="825.4" x2="1051.9" y2="825.4" stroke="#000" stroke-width="3.8"/>
<text x="1046.5" y="832.3" text-anchor="end" font-family="DejaVu Sans, sans-serif" font-size="18.7">400</text>
<line x1="1048.5" y1="909.6" x2="1051.9" y2="909.6" stroke="#000" stroke-width="3.8"/>
<text x="1046.5" y="916.5" text-anchor="end" font-family="DejaVu Sans, sans-serif" font-size="18.7">300</text>
<line x1="1048.5" y1="993.8" x2="1051.9" y2="993.8" stroke="#000" stroke-width="3.8"/>
<text x="1046.5" y="1000.7" text-anchor="end" font-family="DejaVu Sans, sans-serif" font-size="18.7">200</text>
<line x1="1048.5" y1="1078.0" x2="1051.9" y2="1078.0" stroke="#000" stroke-width="3.8"/>
<text x="1046.5" y="1084.9" text-anchor="end" font-family="DejaVu Sans, sans-serif" font-size="18.7">100</text>
<rect x="1051.9" y="644.06" width="937.5999999999999" height="499.6700000000001" fill="none" stroke="#000" stroke-width="3.45"/>
<text x="1049.6" y="628.8" font-family="Liberation Sans, sans-serif" font-size="36">(d) Seasonal precipitation in Chamonix (mm) — <tspan font-weight="bold">Summer</tspan></text>
<clipPath id="clipe"><rect x="39.85" y="1240.4" width="937.65" height="499.66999999999985"/></clipPath>
<g clip-path="url(#clipe)">
<polygon points="41.2,1262.9 67.4,1268.9 104.8,1279.6 142.2,1289.6 172.1,1298.3 199.5,1303.3 229.4,1312.0 254.3,1320.2 279.3,1326.2 304.2,1335.7 319.1,1341.9 341.6,1346.4 366.5,1352.7 403.9,1359.4 441.3,1367.4 458.7,1370.6 478.7,1376.1 490.0,1379.3 514.9,1386.8 547.3,1391.8 567.3,1398.5 589.7,1403.5 629.6,1410.2 664.5,1417.2 696.9,1421.4 726.8,1427.1 764.2,1431.4 776.6,1434.1 814.0,1441.4 826.5,1446.3 851.4,1452.1 876.3,1455.1 901.3,1460.0 926.2,1463.8 933.7,1462.8 946.1,1465.8 978.5,1465.5 978.5,1596.6 946.1,1596.1 933.7,1593.4 926.2,1594.9 901.3,1592.4 876.3,1587.2 851.4,1579.9 834.0,1575.0 814.0,1573.5 796.6,1570.5 784.1,1566.0 776.6,1566.7 764.2,1564.2 739.3,1558.0 714.3,1553.8 689.4,1548.0 676.9,1541.3 659.5,1538.1 629.6,1528.1 607.1,1520.6 584.7,1509.4 564.8,1499.9 537.4,1491.2 514.9,1477.0 490.0,1464.0 478.7,1457.8 453.7,1445.4 428.8,1430.4 403.9,1419.2 383.9,1408.0 366.5,1396.8 341.6,1384.3 324.1,1378.6 304.2,1370.1 279.3,1360.6 254.3,1351.2 229.4,1341.9 199.5,1334.5 172.1,1330.7 142.2,1324.5 104.8,1315.8 67.4,1305.3 41.2,1298.3" fill="#00a550" fill-opacity="0.2" stroke="none"/>
<polygon points="165.8,1309.8 184.5,1311.3 204.5,1317.0 229.4,1323.2 246.8,1326.2 279.3,1335.7 299.2,1343.2 324.1,1350.7 349.0,1353.6 366.5,1358.1 379.0,1358.6 403.9,1364.4 428.8,1370.6 458.7,1376.1 478.7,1383.1 490.0,1387.8 514.9,1394.7 552.3,1409.7 572.3,1419.7 597.2,1429.6 619.6,1437.1 639.6,1447.1 654.5,1455.8 676.9,1465.0 696.9,1473.8 709.3,1476.5 726.8,1487.0 751.7,1496.9 776.6,1506.9 784.1,1508.7 801.6,1516.9 816.5,1522.6 843.9,1539.3 868.9,1551.3 898.8,1564.7 916.2,1572.2 931.2,1576.2 946.1,1583.4 978.5,1591.2 978.5,1718.3 946.1,1709.6 936.2,1708.8 926.2,1704.6 906.3,1700.8 898.8,1697.6 881.3,1691.4 868.9,1683.9 851.4,1675.7 839.0,1667.7 826.5,1662.7 816.5,1657.0 801.6,1652.0 776.6,1641.5 764.2,1635.3 746.7,1626.1 726.8,1619.1 706.8,1609.1 696.9,1597.9 689.4,1596.1 676.9,1590.4 654.5,1581.7 639.6,1572.2 622.1,1564.2 607.1,1555.5 599.7,1552.3 577.2,1541.8 557.3,1528.1 547.3,1516.9 529.9,1508.2 509.9,1495.7 500.0,1492.0 490.0,1484.5 478.7,1477.8 453.7,1462.8 428.8,1447.9 408.9,1440.4 391.4,1429.2 379.0,1419.2 364.0,1405.5 341.6,1393.0 316.6,1380.6 299.2,1369.3 266.8,1354.4 246.8,1343.7 236.9,1335.7 216.9,1329.5 192.0,1317.0 165.8,1309.8" fill="#e3261c" fill-opacity="0.2" stroke="none"/>
<polyline points="41.2,1280.9 67.4,1285.9 104.8,1297.1 142.2,1306.3 172.1,1314.0 199.5,1319.5 229.4,1328.7 254.3,1337.7 279.3,1344.9 304.2,1354.4 319.1,1359.4 354.0,1369.3 379.0,1379.3 403.9,1389.3 428.8,1398.0 453.7,1406.7 478.7,1416.7 490.0,1420.9 514.9,1430.9 539.9,1441.4 577.2,1452.1 609.6,1463.3 629.6,1469.5 659.5,1477.5 676.9,1480.0 689.4,1485.0 714.3,1490.0 739.3,1493.9 764.2,1498.7 784.1,1501.2 801.6,1505.7 839.0,1513.1 876.3,1521.9 901.3,1526.4 926.2,1529.3 933.7,1528.3 946.1,1530.8 978.5,1531.3" fill="none" stroke="#00a550" stroke-width="1.6" stroke-linejoin="round"/>
<polyline points="41.2,1262.9 67.4,1268.9 104.8,1279.6 142.2,1289.6 172.1,1298.3 199.5,1303.3 229.4,1312.0 254.3,1320.2 279.3,1326.2 304.2,1335.7 319.1,1341.9 341.6,1346.4 366.5,1352.7 403.9,1359.4 441.3,1367.4 458.7,1370.6 478.7,1376.1 490.0,1379.3 514.9,1386.8 547.3,1391.8 567.3,1398.5 589.7,1403.5 629.6,1410.2 664.5,1417.2 696.9,1421.4 726.8,1427.1 764.2,1431.4 776.6,1434.1 814.0,1441.4 826.5,1446.3 851.4,1452.1 876.3,1455.1 901.3,1460.0 926.2,1463.8 933.7,1462.8 946.1,1465.8 978.5,1465.5" fill="none" stroke="#00a550" stroke-width="1.6" stroke-dasharray="11.4 4.8" stroke-linejoin="round"/>
<polyline points="41.2,1298.3 67.4,1305.3 104.8,1315.8 142.2,1324.5 172.1,1330.7 199.5,1334.5 229.4,1341.9 254.3,1351.2 279.3,1360.6 304.2,1370.1 324.1,1378.6 341.6,1384.3 366.5,1396.8 383.9,1408.0 403.9,1419.2 428.8,1430.4 453.7,1445.4 478.7,1457.8 490.0,1464.0 514.9,1477.0 537.4,1491.2 564.8,1499.9 584.7,1509.4 607.1,1520.6 629.6,1528.1 659.5,1538.1 676.9,1541.3 689.4,1548.0 714.3,1553.8 739.3,1558.0 764.2,1564.2 776.6,1566.7 784.1,1566.0 796.6,1570.5 814.0,1573.5 834.0,1575.0 851.4,1579.9 876.3,1587.2 901.3,1592.4 926.2,1594.9 933.7,1593.4 946.1,1596.1 978.5,1596.6" fill="none" stroke="#00a550" stroke-width="1.6" stroke-dasharray="11.4 4.8" stroke-linejoin="round"/>
<polyline points="41.2,1276.4 67.4,1282.1 104.8,1293.3 142.2,1302.8 172.1,1310.8 199.5,1318.3 229.4,1328.2 241.9,1332.0 254.3,1338.7 279.3,1347.7 304.2,1358.1 329.1,1367.6 359.0,1378.6 391.4,1395.5 416.3,1405.5 433.8,1410.5 453.7,1419.2 478.7,1431.7 490.0,1435.9 507.4,1442.1 527.4,1452.1 547.3,1462.5 559.8,1471.5 577.2,1480.7 599.7,1490.7 607.1,1493.2 629.6,1504.4 657.0,1519.4 676.9,1527.6 696.9,1536.3 706.8,1542.3 726.8,1551.8 751.7,1563.0 776.6,1574.2 784.1,1576.2 801.6,1583.7 816.5,1589.7 843.9,1605.4 876.3,1621.6 913.7,1636.5 926.2,1639.5 951.1,1648.2 978.5,1654.7" fill="none" stroke="#e3261c" stroke-width="1.6" stroke-linejoin="round"/>
<polyline points="165.8,1309.8 184.5,1311.3 204.5,1317.0 229.4,1323.2 246.8,1326.2 279.3,1335.7 299.2,1343.2 324.1,1350.7 349.0,1353.6 366.5,1358.1 379.0,1358.6 403.9,1364.4 428.8,1370.6 458.7,1376.1 478.7,1383.1 490.0,1387.8 514.9,1394.7 552.3,1409.7 572.3,1419.7 597.2,1429.6 619.6,1437.1 639.6,1447.1 654.5,1455.8 676.9,1465.0 696.9,1473.8 709.3,1476.5 726.8,1487.0 751.7,1496.9 776.6,1506.9 784.1,1508.7 801.6,1516.9 816.5,1522.6 843.9,1539.3 868.9,1551.3 898.8,1564.7 916.2,1572.2 931.2,1576.2 946.1,1583.4 978.5,1591.2" fill="none" stroke="#e3261c" stroke-width="1.6" stroke-dasharray="11.4 4.8" stroke-linejoin="round"/>
<polyline points="165.8,1309.8 192.0,1317.0 216.9,1329.5 236.9,1335.7 246.8,1343.7 266.8,1354.4 299.2,1369.3 316.6,1380.6 341.6,1393.0 364.0,1405.5 379.0,1419.2 391.4,1429.2 408.9,1440.4 428.8,1447.9 453.7,1462.8 478.7,1477.8 490.0,1484.5 500.0,1492.0 509.9,1495.7 529.9,1508.2 547.3,1516.9 557.3,1528.1 577.2,1541.8 599.7,1552.3 607.1,1555.5 622.1,1564.2 639.6,1572.2 654.5,1581.7 676.9,1590.4 689.4,1596.1 696.9,1597.9 706.8,1609.1 726.8,1619.1 746.7,1626.1 764.2,1635.3 776.6,1641.5 801.6,1652.0 816.5,1657.0 826.5,1662.7 839.0,1667.7 851.4,1675.7 868.9,1683.9 881.3,1691.4 898.8,1697.6 906.3,1700.8 926.2,1704.6 936.2,1708.8 946.1,1709.6 978.5,1718.3" fill="none" stroke="#e3261c" stroke-width="1.6" stroke-dasharray="11.4 4.8" stroke-linejoin="round"/>
<polyline points="41.2,1276.4 67.4,1282.1 104.8,1293.3 142.2,1302.8" fill="none" stroke="#e3261c" stroke-width="2.0" stroke-linejoin="round"/>
</g>
<line x1="46.0" y1="1740.07" x2="46.0" y2="1743.47" stroke="#000" stroke-width="3.6"/>
<text x="44.8" y="1764.6" text-anchor="middle" font-family="Liberation Sans, sans-serif" font-size="20.0">1970</text>
<line x1="184.2" y1="1740.07" x2="184.2" y2="1743.47" stroke="#000" stroke-width="3.6"/>
<text x="183.0" y="1764.6" text-anchor="middle" font-family="Liberation Sans, sans-serif" font-size="20.0">1990</text>
<line x1="322.3" y1="1740.07" x2="322.3" y2="1743.47" stroke="#000" stroke-width="3.6"/>
<text x="321.1" y="1764.6" text-anchor="middle" font-family="Liberation Sans, sans-serif" font-size="20.0">2010</text>
<line x1="460.5" y1="1740.07" x2="460.5" y2="1743.47" stroke="#000" stroke-width="3.6"/>
<text x="459.3" y="1764.6" text-anchor="middle" font-family="Liberation Sans, sans-serif" font-size="20.0">2030</text>
<line x1="598.7" y1="1740.07" x2="598.7" y2="1743.47" stroke="#000" stroke-width="3.6"/>
<text x="597.5" y="1764.6" text-anchor="middle" font-family="Liberation Sans, sans-serif" font-size="20.0">2050</text>
<line x1="736.9" y1="1740.07" x2="736.9" y2="1743.47" stroke="#000" stroke-width="3.6"/>
<text x="735.7" y="1764.6" text-anchor="middle" font-family="Liberation Sans, sans-serif" font-size="20.0">2070</text>
<line x1="875.0" y1="1740.07" x2="875.0" y2="1743.47" stroke="#000" stroke-width="3.6"/>
<text x="873.8" y="1764.6" text-anchor="middle" font-family="Liberation Sans, sans-serif" font-size="20.0">2090</text>
<line x1="36.45" y1="1240.4" x2="39.85" y2="1240.4" stroke="#000" stroke-width="3.8"/>
<text x="34.8" y="1247.3" text-anchor="end" font-family="DejaVu Sans, sans-serif" font-size="18.7">90</text>
<line x1="36.45" y1="1296.6" x2="39.85" y2="1296.6" stroke="#000" stroke-width="3.8"/>
<text x="34.8" y="1303.5" text-anchor="end" font-family="DejaVu Sans, sans-serif" font-size="18.7">80</text>
<line x1="36.45" y1="1352.8" x2="39.85" y2="1352.8" stroke="#000" stroke-width="3.8"/>
<text x="34.8" y="1359.7" text-anchor="end" font-family="DejaVu Sans, sans-serif" font-size="18.7">70</text>
<line x1="36.45" y1="1408.9" x2="39.85" y2="1408.9" stroke="#000" stroke-width="3.8"/>
<text x="34.8" y="1415.8" text-anchor="end" font-family="DejaVu Sans, sans-serif" font-size="18.7">60</text>
<line x1="36.45" y1="1465.1" x2="39.85" y2="1465.1" stroke="#000" stroke-width="3.8"/>
<text x="34.8" y="1472.0" text-anchor="end" font-family="DejaVu Sans, sans-serif" font-size="18.7">50</text>
<line x1="36.45" y1="1521.3" x2="39.85" y2="1521.3" stroke="#000" stroke-width="3.8"/>
<text x="34.8" y="1528.2" text-anchor="end" font-family="DejaVu Sans, sans-serif" font-size="18.7">40</text>
<line x1="36.45" y1="1577.5" x2="39.85" y2="1577.5" stroke="#000" stroke-width="3.8"/>
<text x="34.8" y="1584.4" text-anchor="end" font-family="DejaVu Sans, sans-serif" font-size="18.7">30</text>
<line x1="36.45" y1="1633.7" x2="39.85" y2="1633.7" stroke="#000" stroke-width="3.8"/>
<text x="34.8" y="1640.6" text-anchor="end" font-family="DejaVu Sans, sans-serif" font-size="18.7">20</text>
<line x1="36.45" y1="1689.8" x2="39.85" y2="1689.8" stroke="#000" stroke-width="3.8"/>
<text x="34.8" y="1696.7" text-anchor="end" font-family="DejaVu Sans, sans-serif" font-size="18.7">10</text>
<rect x="39.85" y="1240.4" width="937.65" height="499.66999999999985" fill="none" stroke="#000" stroke-width="3.45"/>
<text x="40.8" y="1224.5" font-family="Liberation Sans, sans-serif" font-size="36">(e) Glacierized area (km<tspan font-size="21" dy="-12">2</tspan><tspan dy="12">) upstream of Sallanches</tspan></text>
<rect x="48.5" y="1673.3" width="132.3" height="59.600000000000136" rx="5" ry="5" fill="#fff" fill-opacity="0.8" stroke="#ccc" stroke-width="3.8"/>
<line x1="55.1" y1="1688.0" x2="93.5" y2="1688.0" stroke="#00a550" stroke-width="1.6"/>
<text x="106.6" y="1694.3" font-family="DejaVu Sans, sans-serif" font-size="19.05">RCP4.5</text>
<line x1="55.1" y1="1714.87" x2="93.5" y2="1714.87" stroke="#e3261c" stroke-width="1.6"/>
<text x="106.6" y="1721.2" font-family="DejaVu Sans, sans-serif" font-size="19.05">RCP8.5</text>
<clipPath id="clipf"><rect x="1051.9" y="1240.4" width="937.5999999999999" height="499.66999999999985"/></clipPath>
<g clip-path="url(#clipf)">
<polygon points="1173.3,1670.7 1182.1,1668.9 1194.5,1671.4 1204.5,1670.7 1213.2,1672.7 1223.2,1665.2 1231.9,1656.5 1241.9,1657.7 1251.9,1658.2 1273.1,1660.2 1281.8,1660.2 1291.7,1645.2 1301.7,1635.3 1310.4,1620.3 1321.7,1621.6 1332.9,1626.6 1342.8,1627.8 1361.5,1626.6 1382.7,1629.5 1391.4,1632.0 1401.4,1611.6 1411.4,1591.7 1421.4,1585.4 1431.3,1586.7 1441.3,1577.2 1451.3,1571.7 1461.2,1564.2 1471.2,1556.8 1481.2,1552.3 1491.1,1553.8 1500.0,1547.1 1510.0,1545.8 1521.2,1515.7 1531.2,1515.7 1539.9,1508.9 1549.9,1505.7 1561.1,1494.7 1571.0,1490.7 1579.8,1486.5 1589.7,1479.8 1600.9,1474.0 1609.7,1467.8 1619.6,1460.3 1629.6,1459.6 1639.6,1457.3 1649.6,1454.6 1659.5,1447.1 1669.5,1444.9 1679.5,1444.1 1689.4,1443.4 1699.4,1439.1 1709.4,1437.4 1719.3,1437.1 1729.3,1432.9 1739.3,1429.2 1749.3,1427.2 1759.2,1426.7 1769.2,1420.9 1779.2,1420.4 1789.1,1419.9 1799.1,1418.0 1809.1,1416.0 1819.0,1415.5 1829.0,1418.0 1839.0,1418.7 1849.0,1414.2 1858.9,1411.7 1868.9,1409.2 1878.9,1408.5 1888.8,1405.5 1898.8,1404.7 1908.8,1399.8 1918.7,1399.8 1928.7,1395.5 1938.7,1395.5 1948.7,1395.0 1958.6,1393.5 1968.6,1391.0 1978.6,1388.5 1989.8,1385.8 1989.8,1545.8 1978.6,1548.1 1968.6,1550.1 1958.6,1550.6 1948.7,1551.8 1938.7,1552.6 1927.5,1555.5 1918.7,1552.6 1908.8,1553.0 1898.8,1556.3 1888.8,1557.0 1878.9,1558.8 1868.9,1559.3 1858.9,1558.8 1849.0,1560.5 1839.0,1575.0 1829.0,1577.5 1819.0,1579.2 1809.1,1580.0 1799.1,1588.2 1789.1,1589.2 1779.2,1591.7 1769.2,1591.9 1759.2,1594.9 1749.3,1594.2 1739.3,1595.4 1729.3,1600.7 1719.3,1601.7 1709.4,1606.9 1699.4,1606.6 1689.4,1609.1 1679.5,1607.4 1669.5,1616.1 1659.5,1614.1 1649.6,1614.4 1639.6,1614.9 1629.6,1614.1 1619.6,1613.6 1609.7,1618.6 1600.9,1618.6 1589.7,1623.1 1579.8,1622.3 1571.0,1624.8 1559.8,1625.6 1549.9,1638.0 1539.9,1641.0 1531.2,1647.8 1521.2,1648.0 1510.0,1644.3 1500.0,1644.3 1491.1,1648.5 1481.2,1649.0 1471.2,1650.2 1461.2,1655.2 1451.3,1655.2 1441.3,1662.2 1431.3,1665.2 1421.4,1663.4 1411.4,1663.4 1401.4,1655.2 1391.4,1646.5 1382.7,1644.0 1361.5,1640.3 1342.8,1636.5 1332.9,1634.0 1321.7,1639.0 1310.4,1647.7 1301.7,1671.4 1291.7,1672.7 1281.8,1666.4 1273.1,1663.9 1251.9,1661.9 1241.9,1661.4 1231.9,1661.9 1222.0,1675.9 1213.2,1673.9 1204.5,1673.2 1194.5,1673.9 1182.1,1670.9 1173.3,1672.2" fill="#00a550" fill-opacity="0.2" stroke="none"/>
<polygon points="1173.3,1670.7 1182.1,1668.9 1194.5,1671.4 1204.5,1670.7 1213.2,1672.7 1223.2,1659.0 1231.9,1657.0 1241.9,1657.7 1251.9,1659.0 1273.1,1660.2 1281.8,1647.7 1291.7,1636.5 1301.7,1624.1 1309.2,1622.8 1321.7,1630.3 1332.9,1627.8 1342.8,1630.3 1361.5,1632.8 1382.7,1636.5 1391.4,1606.6 1401.4,1586.7 1411.4,1570.5 1421.4,1558.0 1431.3,1550.0 1441.3,1548.5 1451.3,1539.3 1461.2,1530.1 1471.2,1526.8 1481.2,1523.1 1491.1,1519.4 1500.0,1513.9 1510.0,1496.5 1521.2,1487.7 1531.2,1486.5 1539.9,1484.0 1549.9,1480.3 1561.1,1477.8 1567.3,1471.5 1579.8,1457.3 1589.7,1451.6 1600.9,1445.9 1609.7,1432.9 1619.6,1416.2 1629.6,1413.5 1639.6,1412.5 1649.6,1408.7 1659.5,1401.0 1669.5,1398.0 1679.5,1391.8 1689.4,1385.6 1699.4,1389.8 1709.4,1389.8 1719.3,1382.3 1729.3,1380.6 1739.3,1377.3 1749.3,1374.3 1759.2,1366.9 1769.2,1363.9 1779.2,1361.4 1789.1,1353.1 1797.9,1343.7 1809.1,1338.2 1819.0,1330.7 1829.0,1324.0 1839.0,1319.0 1849.0,1312.8 1858.9,1309.0 1868.9,1305.8 1878.9,1302.1 1888.8,1299.6 1898.8,1296.3 1908.8,1294.1 1918.7,1292.6 1928.7,1290.8 1938.7,1288.3 1948.7,1284.6 1956.1,1279.6 1966.1,1272.9 1978.6,1267.7 1989.8,1260.9 1989.8,1435.4 1978.6,1443.4 1966.1,1446.6 1958.6,1447.9 1948.7,1454.1 1938.7,1457.3 1928.7,1458.6 1918.7,1463.3 1908.8,1465.8 1898.8,1467.1 1888.8,1472.3 1878.9,1476.5 1868.9,1482.0 1858.9,1482.8 1849.0,1484.0 1839.0,1490.2 1829.0,1492.7 1819.0,1492.7 1809.1,1492.7 1799.1,1497.7 1789.1,1497.7 1779.2,1499.5 1769.2,1499.5 1759.2,1502.7 1749.3,1505.9 1739.3,1507.2 1729.3,1510.9 1719.3,1508.4 1709.4,1513.9 1698.2,1521.4 1691.9,1535.1 1686.9,1542.6 1679.5,1547.6 1669.5,1552.6 1659.5,1557.5 1649.6,1568.8 1639.6,1574.2 1629.6,1573.7 1619.6,1575.5 1609.7,1581.2 1600.9,1586.9 1589.7,1591.2 1579.8,1597.4 1571.0,1601.2 1561.1,1610.6 1549.9,1608.6 1539.9,1614.9 1531.2,1614.9 1521.2,1614.9 1510.0,1611.9 1500.0,1611.1 1491.1,1620.3 1481.2,1625.3 1471.2,1626.6 1461.2,1630.3 1451.3,1637.8 1441.3,1641.0 1431.3,1642.8 1421.4,1646.5 1411.4,1656.5 1401.4,1668.2 1391.4,1661.4 1382.7,1647.7 1361.5,1642.8 1342.8,1637.8 1332.9,1634.5 1321.7,1635.3 1312.9,1640.3 1301.7,1655.2 1291.7,1671.9 1281.8,1671.4 1273.1,1665.2 1251.9,1662.7 1241.9,1660.9 1231.9,1660.2 1223.2,1675.2 1213.2,1673.9 1204.5,1673.2 1194.5,1673.9 1182.1,1670.9 1173.3,1672.2" fill="#e3261c" fill-opacity="0.2" stroke="none"/>
<polyline points="1052.0,1720.0 1053.7,1717.5 1064.9,1704.6 1084.9,1695.6 1094.8,1682.1 1104.3,1677.1 1113.5,1680.9 1132.2,1671.4 1142.7,1667.7 1153.4,1670.7 1162.6,1668.4 1173.3,1671.4 1182.1,1669.9 1194.5,1672.7 1204.5,1671.9 1213.2,1673.4 1223.2,1671.4 1231.9,1659.0 1241.9,1660.2 1251.9,1660.2 1273.1,1662.7 1281.8,1663.2 1291.7,1657.7 1301.7,1652.7 1312.9,1632.8 1321.7,1631.5 1332.9,1631.0 1342.8,1632.8 1361.5,1634.0 1382.7,1637.8 1391.4,1639.5 1401.4,1635.3 1411.4,1629.0 1421.4,1624.6 1431.3,1626.1 1441.3,1619.1 1451.3,1612.8 1461.2,1607.9 1471.2,1602.9 1481.2,1599.9 1491.1,1601.1 1500.0,1596.2 1510.0,1594.9 1521.2,1581.7 1531.2,1581.7 1539.9,1575.0 1549.9,1572.0 1561.1,1560.0 1571.0,1558.0 1579.8,1555.0 1589.7,1552.1 1600.9,1547.1 1609.7,1543.8 1619.6,1537.1 1629.6,1536.8 1639.6,1535.9 1649.6,1534.4 1659.5,1530.6 1669.5,1530.1 1679.5,1525.6 1689.4,1525.9 1699.4,1523.1 1709.4,1522.6 1719.3,1519.6 1729.3,1517.7 1739.3,1513.2 1749.3,1510.9 1759.2,1511.4 1769.2,1506.4 1779.2,1505.7 1789.1,1504.4 1799.1,1503.2 1809.1,1498.2 1819.0,1497.7 1829.0,1497.7 1839.0,1497.0 1849.0,1487.7 1858.9,1485.3 1868.9,1484.8 1878.9,1484.0 1888.8,1481.5 1898.8,1480.3 1908.8,1476.5 1918.7,1476.0 1928.7,1475.8 1938.7,1474.5 1948.7,1473.5 1958.6,1472.0 1968.6,1470.8 1978.6,1468.3 1989.8,1466.1" fill="none" stroke="#00a550" stroke-width="1.6" stroke-linejoin="round"/>
<polyline points="1173.3,1670.7 1182.1,1668.9 1194.5,1671.4 1204.5,1670.7 1213.2,1672.7 1223.2,1665.2 1231.9,1656.5 1241.9,1657.7 1251.9,1658.2 1273.1,1660.2 1281.8,1660.2 1291.7,1645.2 1301.7,1635.3 1310.4,1620.3 1321.7,1621.6 1332.9,1626.6 1342.8,1627.8 1361.5,1626.6 1382.7,1629.5 1391.4,1632.0 1401.4,1611.6 1411.4,1591.7 1421.4,1585.4 1431.3,1586.7 1441.3,1577.2 1451.3,1571.7 1461.2,1564.2 1471.2,1556.8 1481.2,1552.3 1491.1,1553.8 1500.0,1547.1 1510.0,1545.8 1521.2,1515.7 1531.2,1515.7 1539.9,1508.9 1549.9,1505.7 1561.1,1494.7 1571.0,1490.7 1579.8,1486.5 1589.7,1479.8 1600.9,1474.0 1609.7,1467.8 1619.6,1460.3 1629.6,1459.6 1639.6,1457.3 1649.6,1454.6 1659.5,1447.1 1669.5,1444.9 1679.5,1444.1 1689.4,1443.4 1699.4,1439.1 1709.4,1437.4 1719.3,1437.1 1729.3,1432.9 1739.3,1429.2 1749.3,1427.2 1759.2,1426.7 1769.2,1420.9 1779.2,1420.4 1789.1,1419.9 1799.1,1418.0 1809.1,1416.0 1819.0,1415.5 1829.0,1418.0 1839.0,1418.7 1849.0,1414.2 1858.9,1411.7 1868.9,1409.2 1878.9,1408.5 1888.8,1405.5 1898.8,1404.7 1908.8,1399.8 1918.7,1399.8 1928.7,1395.5 1938.7,1395.5 1948.7,1395.0 1958.6,1393.5 1968.6,1391.0 1978.6,1388.5 1989.8,1385.8" fill="none" stroke="#00a550" stroke-width="1.6" stroke-dasharray="11.4 4.8" stroke-linejoin="round"/>
<polyline points="1173.3,1672.2 1182.1,1670.9 1194.5,1673.9 1204.5,1673.2 1213.2,1673.9 1222.0,1675.9 1231.9,1661.9 1241.9,1661.4 1251.9,1661.9 1273.1,1663.9 1281.8,1666.4 1291.7,1672.7 1301.7,1671.4 1310.4,1647.7 1321.7,1639.0 1332.9,1634.0 1342.8,1636.5 1361.5,1640.3 1382.7,1644.0 1391.4,1646.5 1401.4,1655.2 1411.4,1663.4 1421.4,1663.4 1431.3,1665.2 1441.3,1662.2 1451.3,1655.2 1461.2,1655.2 1471.2,1650.2 1481.2,1649.0 1491.1,1648.5 1500.0,1644.3 1510.0,1644.3 1521.2,1648.0 1531.2,1647.8 1539.9,1641.0 1549.9,1638.0 1559.8,1625.6 1571.0,1624.8 1579.8,1622.3 1589.7,1623.1 1600.9,1618.6 1609.7,1618.6 1619.6,1613.6 1629.6,1614.1 1639.6,1614.9 1649.6,1614.4 1659.5,1614.1 1669.5,1616.1 1679.5,1607.4 1689.4,1609.1 1699.4,1606.6 1709.4,1606.9 1719.3,1601.7 1729.3,1600.7 1739.3,1595.4 1749.3,1594.2 1759.2,1594.9 1769.2,1591.9 1779.2,1591.7 1789.1,1589.2 1799.1,1588.2 1809.1,1580.0 1819.0,1579.2 1829.0,1577.5 1839.0,1575.0 1849.0,1560.5 1858.9,1558.8 1868.9,1559.3 1878.9,1558.8 1888.8,1557.0 1898.8,1556.3 1908.8,1553.0 1918.7,1552.6 1927.5,1555.5 1938.7,1552.6 1948.7,1551.8 1958.6,1550.6 1968.6,1550.1 1978.6,1548.1 1989.8,1545.8" fill="none" stroke="#00a550" stroke-width="1.6" stroke-dasharray="11.4 4.8" stroke-linejoin="round"/>
<polyline points="1052.0,1720.0 1053.7,1717.5 1064.9,1704.6 1084.9,1695.6 1094.8,1682.1 1104.3,1677.1 1113.5,1680.9 1132.2,1671.4 1142.7,1667.7 1153.4,1670.7 1162.6,1668.4 1173.3,1671.4 1182.1,1669.9 1194.5,1672.7 1204.5,1671.9 1213.2,1673.4 1223.2,1668.9 1231.9,1658.5 1241.9,1659.0 1251.9,1660.7 1273.1,1662.7 1281.8,1661.4 1291.7,1652.7 1301.7,1642.8 1312.9,1631.5 1321.7,1633.3 1332.9,1632.8 1342.8,1634.8 1361.5,1637.0 1382.7,1642.0 1391.4,1638.5 1401.4,1634.5 1411.4,1624.6 1421.4,1610.3 1431.3,1597.9 1441.3,1594.1 1451.3,1587.9 1471.2,1576.7 1481.2,1574.2 1491.1,1570.5 1500.0,1563.0 1510.0,1553.8 1521.2,1551.3 1531.2,1550.6 1539.9,1549.6 1549.9,1545.1 1561.1,1544.6 1572.3,1533.9 1579.8,1527.6 1589.7,1520.9 1600.9,1516.4 1609.7,1507.7 1619.6,1496.5 1629.6,1494.0 1639.6,1493.2 1649.6,1489.0 1659.5,1480.8 1669.5,1476.5 1679.5,1470.8 1689.4,1464.1 1699.4,1456.6 1709.4,1452.4 1719.3,1445.9 1729.3,1445.4 1739.3,1442.4 1749.3,1440.4 1759.2,1435.4 1769.2,1432.2 1779.2,1430.4 1789.1,1425.4 1809.1,1416.0 1819.0,1412.5 1829.0,1409.2 1839.0,1405.5 1849.0,1399.3 1858.9,1396.3 1868.9,1394.3 1878.9,1390.0 1888.8,1386.8 1898.8,1382.6 1908.8,1380.6 1918.7,1378.6 1928.7,1375.6 1938.7,1373.6 1948.7,1369.8 1958.6,1364.4 1966.1,1360.6 1978.6,1356.1 1989.8,1348.2" fill="none" stroke="#e3261c" stroke-width="1.6" stroke-linejoin="round"/>
<polyline points="1173.3,1670.7 1182.1,1668.9 1194.5,1671.4 1204.5,1670.7 1213.2,1672.7 1223.2,1659.0 1231.9,1657.0 1241.9,1657.7 1251.9,1659.0 1273.1,1660.2 1281.8,1647.7 1291.7,1636.5 1301.7,1624.1 1309.2,1622.8 1321.7,1630.3 1332.9,1627.8 1342.8,1630.3 1361.5,1632.8 1382.7,1636.5 1391.4,1606.6 1401.4,1586.7 1411.4,1570.5 1421.4,1558.0 1431.3,1550.0 1441.3,1548.5 1451.3,1539.3 1461.2,1530.1 1471.2,1526.8 1481.2,1523.1 1491.1,1519.4 1500.0,1513.9 1510.0,1496.5 1521.2,1487.7 1531.2,1486.5 1539.9,1484.0 1549.9,1480.3 1561.1,1477.8 1567.3,1471.5 1579.8,1457.3 1589.7,1451.6 1600.9,1445.9 1609.7,1432.9 1619.6,1416.2 1629.6,1413.5 1639.6,1412.5 1649.6,1408.7 1659.5,1401.0 1669.5,1398.0 1679.5,1391.8 1689.4,1385.6 1699.4,1389.8 1709.4,1389.8 1719.3,1382.3 1729.3,1380.6 1739.3,1377.3 1749.3,1374.3 1759.2,1366.9 1769.2,1363.9 1779.2,1361.4 1789.1,1353.1 1797.9,1343.7 1809.1,1338.2 1819.0,1330.7 1829.0,1324.0 1839.0,1319.0 1849.0,1312.8 1858.9,1309.0 1868.9,1305.8 1878.9,1302.1 1888.8,1299.6 1898.8,1296.3 1908.8,1294.1 1918.7,1292.6 1928.7,1290.8 1938.7,1288.3 1948.7,1284.6 1956.1,1279.6 1966.1,1272.9 1978.6,1267.7 1989.8,1260.9" fill="none" stroke="#e3261c" stroke-width="1.6" stroke-dasharray="11.4 4.8" stroke-linejoin="round"/>
<polyline points="1173.3,1672.2 1182.1,1670.9 1194.5,1673.9 1204.5,1673.2 1213.2,1673.9 1223.2,1675.2 1231.9,1660.2 1241.9,1660.9 1251.9,1662.7 1273.1,1665.2 1281.8,1671.4 1291.7,1671.9 1301.7,1655.2 1312.9,1640.3 1321.7,1635.3 1332.9,1634.5 1342.8,1637.8 1361.5,1642.8 1382.7,1647.7 1391.4,1661.4 1401.4,1668.2 1411.4,1656.5 1421.4,1646.5 1431.3,1642.8 1441.3,1641.0 1451.3,1637.8 1461.2,1630.3 1471.2,1626.6 1481.2,1625.3 1491.1,1620.3 1500.0,1611.1 1510.0,1611.9 1521.2,1614.9 1531.2,1614.9 1539.9,1614.9 1549.9,1608.6 1561.1,1610.6 1571.0,1601.2 1579.8,1597.4 1589.7,1591.2 1600.9,1586.9 1609.7,1581.2 1619.6,1575.5 1629.6,1573.7 1639.6,1574.2 1649.6,1568.8 1659.5,1557.5 1669.5,1552.6 1679.5,1547.6 1686.9,1542.6 1691.9,1535.1 1698.2,1521.4 1709.4,1513.9 1719.3,1508.4 1729.3,1510.9 1739.3,1507.2 1749.3,1505.9 1759.2,1502.7 1769.2,1499.5 1779.2,1499.5 1789.1,1497.7 1799.1,1497.7 1809.1,1492.7 1819.0,1492.7 1829.0,1492.7 1839.0,1490.2 1849.0,1484.0 1858.9,1482.8 1868.9,1482.0 1878.9,1476.5 1888.8,1472.3 1898.8,1467.1 1908.8,1465.8 1918.7,1463.3 1928.7,1458.6 1938.7,1457.3 1948.7,1454.1 1958.6,1447.9 1966.1,1446.6 1978.6,1443.4 1989.8,1435.4" fill="none" stroke="#e3261c" stroke-width="1.6" stroke-dasharray="11.4 4.8" stroke-linejoin="round"/>
<polyline points="1052.0,1720.0 1053.7,1717.5 1064.9,1704.6 1084.9,1695.6 1094.8,1682.1 1104.3,1677.1 1113.5,1680.9 1132.2,1671.4 1142.7,1667.7 1153.4,1670.7 1162.6,1668.4 1173.3,1671.4" fill="none" stroke="#e3261c" stroke-width="2.0" stroke-linejoin="round"/>
</g>
<line x1="1058.1" y1="1740.07" x2="1058.1" y2="1743.47" stroke="#000" stroke-width="3.6"/>
<text x="1056.9" y="1764.6" text-anchor="middle" font-family="Liberation Sans, sans-serif" font-size="20.0">1970</text>
<line x1="1196.2" y1="1740.07" x2="1196.2" y2="1743.47" stroke="#000" stroke-width="3.6"/>
<text x="1195.0" y="1764.6" text-anchor="middle" font-family="Liberation Sans, sans-serif" font-size="20.0">1990</text>
<line x1="1334.4" y1="1740.07" x2="1334.4" y2="1743.47" stroke="#000" stroke-width="3.6"/>
<text x="1333.2" y="1764.6" text-anchor="middle" font-family="Liberation Sans, sans-serif" font-size="20.0">2010</text>
<line x1="1472.6" y1="1740.07" x2="1472.6" y2="1743.47" stroke="#000" stroke-width="3.6"/>
<text x="1471.4" y="1764.6" text-anchor="middle" font-family="Liberation Sans, sans-serif" font-size="20.0">2030</text>
<line x1="1610.7" y1="1740.07" x2="1610.7" y2="1743.47" stroke="#000" stroke-width="3.6"/>
<text x="1609.5" y="1764.6" text-anchor="middle" font-family="Liberation Sans, sans-serif" font-size="20.0">2050</text>
<line x1="1748.9" y1="1740.07" x2="1748.9" y2="1743.47" stroke="#000" stroke-width="3.6"/>
<text x="1747.7" y="1764.6" text-anchor="middle" font-family="Liberation Sans, sans-serif" font-size="20.0">2070</text>
<line x1="1887.1" y1="1740.07" x2="1887.1" y2="1743.47" stroke="#000" stroke-width="3.6"/>
<text x="1885.9" y="1764.6" text-anchor="middle" font-family="Liberation Sans, sans-serif" font-size="20.0">2090</text>
<line x1="1048.5" y1="1240.4" x2="1051.9" y2="1240.4" stroke="#000" stroke-width="3.8"/>
<text x="1049.0" y="1247.3" text-anchor="end" font-family="DejaVu Sans, sans-serif" font-size="18.7">3500</text>
<line x1="1048.5" y1="1300.5" x2="1051.9" y2="1300.5" stroke="#000" stroke-width="3.8"/>
<text x="1049.0" y="1307.4" text-anchor="end" font-family="DejaVu Sans, sans-serif" font-size="18.7">3250</text>
<line x1="1048.5" y1="1360.5" x2="1051.9" y2="1360.5" stroke="#000" stroke-width="3.8"/>
<text x="1049.0" y="1367.4" text-anchor="end" font-family="DejaVu Sans, sans-serif" font-size="18.7">3000</text>
<line x1="1048.5" y1="1420.6" x2="1051.9" y2="1420.6" stroke="#000" stroke-width="3.8"/>
<text x="1049.0" y="1427.5" text-anchor="end" font-family="DejaVu Sans, sans-serif" font-size="18.7">2750</text>
<line x1="1048.5" y1="1480.7" x2="1051.9" y2="1480.7" stroke="#000" stroke-width="3.8"/>
<text x="1049.0" y="1487.6" text-anchor="end" font-family="DejaVu Sans, sans-serif" font-size="18.7">2500</text>
<line x1="1048.5" y1="1540.7" x2="1051.9" y2="1540.7" stroke="#000" stroke-width="3.8"/>
<text x="1049.0" y="1547.6" text-anchor="end" font-family="DejaVu Sans, sans-serif" font-size="18.7">2250</text>
<line x1="1048.5" y1="1600.8" x2="1051.9" y2="1600.8" stroke="#000" stroke-width="3.8"/>
<text x="1049.0" y="1607.7" text-anchor="end" font-family="DejaVu Sans, sans-serif" font-size="18.7">2000</text>
<line x1="1048.5" y1="1660.8" x2="1051.9" y2="1660.8" stroke="#000" stroke-width="3.8"/>
<text x="1049.0" y="1667.7" text-anchor="end" font-family="DejaVu Sans, sans-serif" font-size="18.7">1750</text>
<line x1="1048.5" y1="1720.9" x2="1051.9" y2="1720.9" stroke="#000" stroke-width="3.8"/>
<text x="1049.0" y="1727.8" text-anchor="end" font-family="DejaVu Sans, sans-serif" font-size="18.7">1500</text>
<rect x="1051.9" y="1240.4" width="937.5999999999999" height="499.66999999999985" fill="none" stroke="#000" stroke-width="3.45"/>
<text x="1050.3" y="1224.4" font-family="Liberation Sans, sans-serif" font-size="36">(f) Lowest glacier front elevation (m) upstream of Sallanches</text>
<rect x="1061.7" y="1249.1" width="132.29999999999995" height="59.40000000000009" rx="5" ry="5" fill="#fff" fill-opacity="0.8" stroke="#ccc" stroke-width="3.8"/>
<line x1="1068.3" y1="1263.9" x2="1106.7" y2="1263.9" stroke="#00a550" stroke-width="1.6"/>
<text x="1119.8" y="1270.2" font-family="DejaVu Sans, sans-serif" font-size="19.05">RCP4.5</text>
<line x1="1068.3" y1="1290.77" x2="1106.7" y2="1290.77" stroke="#e3261c" stroke-width="1.6"/>
<text x="1119.8" y="1297.1" font-family="DejaVu Sans, sans-serif" font-size="19.05">RCP8.5</text>
</svg>
</body></html>
